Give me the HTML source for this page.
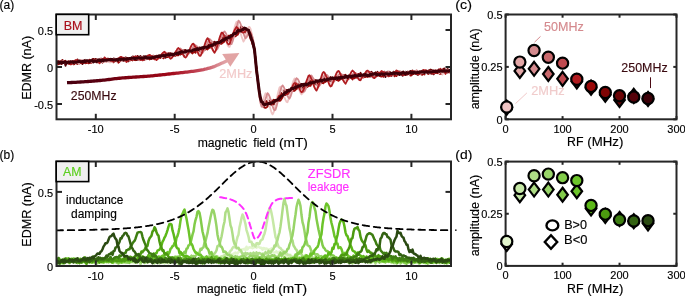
<!DOCTYPE html>
<html><head><meta charset="utf-8"><style>
html,body{margin:0;padding:0;background:#fff;}
svg{display:block;will-change:transform;}
text{font-family:"Liberation Sans", sans-serif;}
</style></head><body>
<svg width="685" height="296" viewBox="0 0 685 296">
<defs>
<clipPath id="clipA"><rect x="56.5" y="14.5" width="394.5" height="104.8"/></clipPath>
<clipPath id="clipB"><rect x="56.5" y="161.5" width="394.5" height="104.5"/></clipPath>
</defs>
<g clip-path="url(#clipA)">
<polyline points="56.5,65.39 57.5,61.59 58.5,63.83 59.5,62.9 60.5,62.86 61.5,62.94 62.5,61.45 63.5,62.9 64.5,62.43 65.5,65.83 66.5,63.41 67.5,62.99 68.5,63.07 69.5,62.74 70.5,62.32 71.5,62.72 72.5,63.27 73.5,62.53 74.5,63.34 75.5,62.28 76.5,62.35 77.5,63.57 78.5,62.8 79.5,62.02 80.5,62.34 81.5,62.98 82.5,64.14 83.5,62.4 84.5,62.34 85.5,63.2 86.5,61.53 87.5,61.83 88.5,62.59 89.5,62.19 90.5,61.66 91.5,62.06 92.5,59.29 93.5,62.42 94.5,60.91 95.5,60.42 96.5,62.05 97.5,62.43 98.5,61.51 99.5,60.87 100.5,61.59 101.5,61.34 102.5,62.3 103.5,61.58 104.5,60.97 105.5,61.57 106.5,60.52 107.5,60 108.5,61.29 109.5,61.38 110.5,60.84 111.5,60.46 112.5,61.31 113.5,59.05 114.5,61.43 115.5,61.07 116.5,59.14 117.5,60.27 118.5,59.24 119.5,60.44 120.5,58.12 121.5,59.06 122.5,60.44 123.5,60.91 124.5,58.37 125.5,59.81 126.5,60.54 127.5,59.8 128.5,61.4 129.5,58.96 130.5,59.95 131.5,58.56 132.5,60.27 133.5,58.9 134.5,58.44 135.5,57.37 136.5,60.17 137.5,59.54 138.5,59.69 139.5,60.14 140.5,59.62 141.5,58.91 142.5,58.69 143.5,58.48 144.5,59.95 145.5,57.38 146.5,57.77 147.5,57.7 148.5,57.88 149.5,58.02 150.5,56.62 151.5,56.34 152.5,57.87 153.5,59 154.5,58.77 155.5,58.44 156.5,58.04 157.5,58.28 158.5,57.52 159.5,57.99 160.5,56.28 161.5,56.61 162.5,56.03 163.5,56.22 164.5,55.87 165.5,57.77 166.5,57.01 167.5,57.13 168.5,54.42 169.5,55.86 170.5,55.67 171.5,56.4 172.5,53.76 173.5,56.06 174.5,55.46 175.5,53.04 176.5,52.79 177.5,52.49 178.5,52.87 179.5,53.35 180.5,54.55 181.5,52.92 182.5,53.85 183.5,53.53 184.5,54.87 185.5,54.11 186.5,54.21 187.5,51.91 188.5,52.02 189.5,50.98 190.5,52.09 191.5,50.93 192.5,49.78 193.5,49.55 194.5,50.28 195.5,49.61 196.5,49.67 197.5,50.85 198.5,52.36 199.5,50.6 200.5,50.2 201.5,49.28 202.5,48.54 203.5,49.04 204.5,48.51 205.5,47.24 206.5,46.78 207.5,46.13 208.5,46.08 209.5,45.09 210.5,45.86 211.5,46.35 212.5,45.93 213.5,46.15 214.5,45.86 215.5,45.54 216.5,45.44 217.5,43.79 218.5,42.96 219.5,42.53 220.5,41.5 221.5,41.26 222.5,38.73 223.5,40.27 224.5,39.55 225.5,39.96 226.5,40.4 227.5,40.52 228.5,40.34 229.5,39.38 230.5,39.17 231.5,37.04 232.5,35.89 233.5,35.12 234.5,33.21 235.5,33.5 236.5,31.97 237.5,32.2 238.5,30.92 239.5,30.78 240.5,31.28 241.5,31.88 242.5,31.49 243.5,32.13 244.5,31.54 245.5,31.73 246.5,29.89 247.5,30.74 248.5,30.72 249.5,32.26 250.5,35.05 251.5,37.52 252.5,41.94 253.5,46.69 254.5,51.17 255.5,60.87 256.5,71.96 257.5,79.33 258.5,87.21 259.5,94.42 260.5,98.23 261.5,102.97 262.5,102.52 263.5,104.2 264.5,103.82 265.5,104.1 266.5,103.65 267.5,103.5 268.5,104.35 269.5,104.19 270.5,104.66 271.5,104.92 272.5,104.77 273.5,104.06 274.5,102.71 275.5,101.83 276.5,99.58 277.5,99.25 278.5,97.52 279.5,97.52 280.5,96.79 281.5,94.8 282.5,95.53 283.5,95.16 284.5,94.47 285.5,94.98 286.5,94.12 287.5,92.9 288.5,92.57 289.5,91.5 290.5,90.52 291.5,88.74 292.5,88.64 293.5,87.8 294.5,86.11 295.5,86.29 296.5,86.72 297.5,86.74 298.5,88.26 299.5,87.77 300.5,87.37 301.5,87.58 302.5,87.58 303.5,88.12 304.5,86 305.5,85.3 306.5,84.64 307.5,83.57 308.5,84.16 309.5,82.32 310.5,83.14 311.5,83.08 312.5,83.66 313.5,83.01 314.5,84.93 315.5,84.07 316.5,84.15 317.5,83.05 318.5,82.48 319.5,82.45 320.5,81.9 321.5,81.03 322.5,80.64 323.5,79.85 324.5,79.47 325.5,80.15 326.5,80.33 327.5,80.28 328.5,81.11 329.5,81.73 330.5,81.26 331.5,80.7 332.5,80.84 333.5,80.96 334.5,79.02 335.5,78.45 336.5,77.83 337.5,78.2 338.5,76.07 339.5,77.63 340.5,78.44 341.5,77.53 342.5,79.36 343.5,79.08 344.5,78.63 345.5,79.22 346.5,77.72 347.5,77.87 348.5,78.89 349.5,76.52 350.5,77.79 351.5,76.04 352.5,76.4 353.5,75.79 354.5,74.46 355.5,75.89 356.5,76.75 357.5,76.16 358.5,76.29 359.5,77.66 360.5,76.85 361.5,75.75 362.5,76.01 363.5,76.63 364.5,75.19 365.5,75.77 366.5,75.85 367.5,74.59 368.5,73.91 369.5,74.04 370.5,75.3 371.5,76.31 372.5,76.16 373.5,76.6 374.5,76 375.5,76.32 376.5,75.39 377.5,75.1 378.5,73.93 379.5,73.31 380.5,73.81 381.5,73.06 382.5,73.2 383.5,74.7 384.5,74.35 385.5,77.07 386.5,75.77 387.5,74.77 388.5,76.08 389.5,75.72 390.5,74.63 391.5,75.73 392.5,73.86 393.5,71.66 394.5,74.4 395.5,72.99 396.5,74.52 397.5,72.94 398.5,72.72 399.5,75.16 400.5,73.32 401.5,74.58 402.5,75.77 403.5,74.81 404.5,74.48 405.5,74.36 406.5,74.62 407.5,72.97 408.5,73.77 409.5,73.46 410.5,74.64 411.5,72.49 412.5,72.18 413.5,73.7 414.5,73.02 415.5,73.79 416.5,73.86 417.5,74.82 418.5,73.36 419.5,73.59 420.5,71.35 421.5,72.38 422.5,74.01 423.5,71.95 424.5,71.69 425.5,71.12 426.5,72.65 427.5,72.47 428.5,71.57 429.5,73.25 430.5,73.1 431.5,73.64 432.5,72.6 433.5,74.38 434.5,73.08 435.5,72.39 436.5,71.78 437.5,71.71 438.5,72.34 439.5,71.23 440.5,72.26 441.5,71.95 442.5,72.7 443.5,72.43 444.5,71.88 445.5,70.53 446.5,72.38 447.5,72.76 448.5,72.06 449.5,72.13 450.5,71.04" fill="none" stroke="#55020a" stroke-width="1.8" stroke-linejoin="round" stroke-linecap="round" />
<polyline points="56.5,61.8 57.5,61.39 58.5,63.25 59.5,62.25 60.5,61.62 61.5,60.82 62.5,61.62 63.5,62.75 64.5,61.82 65.5,60.75 66.5,62.39 67.5,62.4 68.5,62.08 69.5,61.98 70.5,62.33 71.5,61.89 72.5,62.11 73.5,60.88 74.5,62.61 75.5,61.46 76.5,62.74 77.5,59.33 78.5,61.36 79.5,61.44 80.5,60.25 81.5,60.85 82.5,61.12 83.5,61.03 84.5,60.2 85.5,60.59 86.5,61.57 87.5,61.81 88.5,60.84 89.5,60.69 90.5,60.63 91.5,61.12 92.5,59.27 93.5,58.87 94.5,59.88 95.5,58.79 96.5,59.22 97.5,59.81 98.5,60.2 99.5,59.04 100.5,60.61 101.5,58.61 102.5,60.49 103.5,58.69 104.5,58.78 105.5,60.12 106.5,59.08 107.5,58.57 108.5,58.66 109.5,59.24 110.5,58.77 111.5,58.83 112.5,59.77 113.5,58.45 114.5,58.75 115.5,58.79 116.5,60.2 117.5,60.04 118.5,60.12 119.5,58.86 120.5,58.54 121.5,59.12 122.5,57.9 123.5,58.68 124.5,58.44 125.5,57.33 126.5,57.89 127.5,57.96 128.5,59.56 129.5,60.36 130.5,58.29 131.5,58.43 132.5,56.48 133.5,58.27 134.5,57.86 135.5,56.75 136.5,57.98 137.5,55.86 138.5,56.74 139.5,56.95 140.5,55.9 141.5,57.69 142.5,57.98 143.5,56.16 144.5,56.27 145.5,57.96 146.5,57.45 147.5,56.3 148.5,56.77 149.5,56.63 150.5,56.28 151.5,56.75 152.5,56.12 153.5,57 154.5,56.69 155.5,56.21 156.5,56.64 157.5,56.97 158.5,56.59 159.5,55.13 160.5,56.81 161.5,55.99 162.5,56.9 163.5,55.3 164.5,55.22 165.5,54.63 166.5,55.29 167.5,53.72 168.5,53.15 169.5,53.6 170.5,53.04 171.5,53.61 172.5,53.57 173.5,53.87 174.5,55.21 175.5,53.27 176.5,53.27 177.5,52.66 178.5,52.87 179.5,50.89 180.5,50.79 181.5,50.87 182.5,50.97 183.5,50.43 184.5,50.11 185.5,49.93 186.5,51.17 187.5,52.06 188.5,51.26 189.5,51.18 190.5,51.16 191.5,49.63 192.5,49.63 193.5,49.12 194.5,48.99 195.5,48.2 196.5,46.81 197.5,48.32 198.5,48.74 199.5,47.32 200.5,47.95 201.5,47.99 202.5,48.48 203.5,46.84 204.5,49.04 205.5,47.03 206.5,47.69 207.5,46.13 208.5,45.05 209.5,44.48 210.5,44.51 211.5,42.64 212.5,42.72 213.5,42.55 214.5,41.69 215.5,43.81 216.5,43.33 217.5,42.89 218.5,43.56 219.5,41.69 220.5,41.55 221.5,41.9 222.5,40.48 223.5,37.42 224.5,35.79 225.5,36.45 226.5,37.16 227.5,35.88 228.5,35.84 229.5,36.24 230.5,35.16 231.5,35.7 232.5,35.82 233.5,35.26 234.5,34.35 235.5,32.75 236.5,32.33 237.5,30.55 238.5,30.47 239.5,30.25 240.5,27.46 241.5,26.37 242.5,27.53 243.5,28.25 244.5,29.01 245.5,29.38 246.5,28.54 247.5,29.37 248.5,32.17 249.5,32.26 250.5,36.4 251.5,37.68 252.5,41.24 253.5,44.78 254.5,49.75 255.5,59 256.5,67.77 257.5,77.13 258.5,84.76 259.5,92.76 260.5,98.75 261.5,101.26 262.5,102.89 263.5,103.7 264.5,104.25 265.5,104.62 266.5,103.01 267.5,103.44 268.5,102.11 269.5,101.08 270.5,100.09 271.5,100.99 272.5,101.25 273.5,99.76 274.5,101.52 275.5,101.67 276.5,100.61 277.5,100.15 278.5,100.38 279.5,98.53 280.5,95.95 281.5,95.14 282.5,93.71 283.5,92.44 284.5,89.95 285.5,91.29 286.5,89.98 287.5,90.17 288.5,89.79 289.5,90.3 290.5,89.48 291.5,88.99 292.5,89.24 293.5,89.03 294.5,87.11 295.5,87.34 296.5,85.82 297.5,84.58 298.5,85.29 299.5,83.51 300.5,84.72 301.5,83.87 302.5,84.68 303.5,83.77 304.5,84.18 305.5,85.5 306.5,84.76 307.5,84.13 308.5,83.18 309.5,83.08 310.5,81.14 311.5,80.66 312.5,80.72 313.5,79.8 314.5,79.88 315.5,80.42 316.5,80.54 317.5,80.69 318.5,82.19 319.5,81.85 320.5,82.04 321.5,80.82 322.5,79.97 323.5,78.72 324.5,78.89 325.5,77.05 326.5,77.59 327.5,78.12 328.5,78.57 329.5,78.19 330.5,77.03 331.5,78.26 332.5,77.55 333.5,78.95 334.5,78.38 335.5,79.08 336.5,80.02 337.5,78.33 338.5,78.92 339.5,76.77 340.5,75.91 341.5,76.8 342.5,76.8 343.5,75.08 344.5,75.74 345.5,74.76 346.5,75.98 347.5,77.08 348.5,76.47 349.5,76.18 350.5,75.33 351.5,76.4 352.5,76.34 353.5,75.73 354.5,75.03 355.5,73.42 356.5,75.53 357.5,73.96 358.5,74 359.5,74.88 360.5,72.79 361.5,74.7 362.5,74.85 363.5,75.4 364.5,76.22 365.5,75.27 366.5,73.11 367.5,73.95 368.5,74.03 369.5,73.64 370.5,72.2 371.5,71.68 372.5,73.51 373.5,73.5 374.5,73.42 375.5,72.29 376.5,75.31 377.5,71.75 378.5,73.89 379.5,75.78 380.5,73.74 381.5,73.77 382.5,72.33 383.5,74.05 384.5,71.65 385.5,72.66 386.5,72.48 387.5,71.64 388.5,73.36 389.5,71.72 390.5,72.52 391.5,73.23 392.5,73.06 393.5,73.83 394.5,74.01 395.5,72.8 396.5,72.33 397.5,72.06 398.5,71.91 399.5,72.61 400.5,71.61 401.5,72.13 402.5,71.85 403.5,71.41 404.5,72.95 405.5,71.6 406.5,72.57 407.5,73.85 408.5,71.73 409.5,72.37 410.5,70.91 411.5,71.51 412.5,70.46 413.5,71.13 414.5,70.8 415.5,71.24 416.5,72.47 417.5,71.55 418.5,72 419.5,71.59 420.5,71.57 421.5,71.2 422.5,70.48 423.5,71.82 424.5,72.87 425.5,71.72 426.5,70.67 427.5,72.19 428.5,70.32 429.5,70.01 430.5,69.52 431.5,69.8 432.5,70.48 433.5,72.41 434.5,70.76 435.5,70.2 436.5,70.6 437.5,70.86 438.5,69.49 439.5,70.76 440.5,70.99 441.5,70.45 442.5,70.46 443.5,68.76 444.5,68.32 445.5,70.73 446.5,70.65 447.5,68.63 448.5,70.12 449.5,70.06 450.5,70.53" fill="none" stroke="#6a0406" stroke-width="1.8" stroke-linejoin="round" stroke-linecap="round" />
<polyline points="56.5,63.26 57.5,62.58 58.5,63 59.5,62.82 60.5,62.49 61.5,60.9 62.5,59.85 63.5,61.52 64.5,60.86 65.5,62.41 66.5,62.84 67.5,62.56 68.5,62.12 69.5,62.52 70.5,63.42 71.5,61.82 72.5,63 73.5,62.66 74.5,62.13 75.5,62.9 76.5,61 77.5,62.19 78.5,60.65 79.5,60.82 80.5,60.65 81.5,61.94 82.5,60.91 83.5,61.78 84.5,60.88 85.5,62.63 86.5,63.11 87.5,61.65 88.5,62.59 89.5,61.52 90.5,62.61 91.5,60.78 92.5,59.31 93.5,61.78 94.5,60.55 95.5,59.92 96.5,60.33 97.5,59.66 98.5,60.91 99.5,60.23 100.5,62.18 101.5,61.35 102.5,59.28 103.5,59.18 104.5,59.7 105.5,58.4 106.5,59.68 107.5,59.67 108.5,59.14 109.5,59.42 110.5,60.38 111.5,61.25 112.5,61.43 113.5,60.35 114.5,61.01 115.5,59.56 116.5,60.27 117.5,58.92 118.5,60 119.5,58.16 120.5,58.15 121.5,58.74 122.5,59.22 123.5,57.72 124.5,58.58 125.5,59.28 126.5,59.51 127.5,58.78 128.5,59.61 129.5,59.22 130.5,60.33 131.5,59.38 132.5,57.56 133.5,56.55 134.5,58.1 135.5,58.72 136.5,57.82 137.5,58.47 138.5,57.53 139.5,57.02 140.5,58.91 141.5,58.58 142.5,59.19 143.5,57.58 144.5,58.61 145.5,57.67 146.5,58.46 147.5,56.97 148.5,56.58 149.5,56.26 150.5,57.47 151.5,56.5 152.5,56 153.5,55.99 154.5,56.2 155.5,58.43 156.5,55.99 157.5,56.87 158.5,57.92 159.5,57.98 160.5,56.49 161.5,56.71 162.5,56.17 163.5,55.83 164.5,54.68 165.5,55.63 166.5,54.6 167.5,55.71 168.5,54 169.5,55.69 170.5,54.33 171.5,54.31 172.5,55.73 173.5,54.41 174.5,54.76 175.5,53.13 176.5,54.27 177.5,52.57 178.5,51.24 179.5,51.61 180.5,51.99 181.5,51.1 182.5,52.16 183.5,53.41 184.5,53 185.5,52.74 186.5,52.58 187.5,53.08 188.5,51.34 189.5,49.82 190.5,50.44 191.5,49.44 192.5,50.27 193.5,48.74 194.5,47.74 195.5,47.78 196.5,48.93 197.5,48.61 198.5,49.16 199.5,49.8 200.5,50.18 201.5,50.32 202.5,49.77 203.5,49.57 204.5,48.85 205.5,46.27 206.5,47.23 207.5,45.15 208.5,44.84 209.5,43.73 210.5,44.35 211.5,44.61 212.5,44.96 213.5,45.69 214.5,45.93 215.5,45.43 216.5,45.48 217.5,44.89 218.5,43.73 219.5,42.03 220.5,40.71 221.5,39.46 222.5,37.93 223.5,37.03 224.5,38.11 225.5,37.61 226.5,38.17 227.5,38.29 228.5,39.4 229.5,39.77 230.5,39.06 231.5,38.3 232.5,36.49 233.5,35.77 234.5,33.8 235.5,31.55 236.5,30.66 237.5,28.96 238.5,28.43 239.5,28.56 240.5,28.78 241.5,29.62 242.5,30.85 243.5,31.43 244.5,31.75 245.5,32.71 246.5,31.16 247.5,30.66 248.5,31 249.5,32.73 250.5,35.08 251.5,37.2 252.5,40.7 253.5,43.36 254.5,49.55 255.5,58.98 256.5,69.77 257.5,78.75 258.5,85.07 259.5,96.57 260.5,99.37 261.5,103.06 262.5,104.2 263.5,104.09 264.5,103.32 265.5,101.39 266.5,101.02 267.5,101.33 268.5,101.22 269.5,101.81 270.5,102.21 271.5,104.08 272.5,104.47 273.5,104.36 274.5,104.31 275.5,103.02 276.5,101.12 277.5,99.62 278.5,97.97 279.5,96.29 280.5,94.86 281.5,93.04 282.5,92.63 283.5,92.89 284.5,92.73 285.5,92.78 286.5,93.8 287.5,93.43 288.5,93.54 289.5,92.83 290.5,90.98 291.5,90.12 292.5,88.55 293.5,86.91 294.5,85.78 295.5,84.34 296.5,83.48 297.5,84.5 298.5,84.87 299.5,86.2 300.5,86.72 301.5,87.07 302.5,87.71 303.5,88.21 304.5,87.29 305.5,85.95 306.5,84.78 307.5,83.29 308.5,82.2 309.5,81.49 310.5,80.48 311.5,80.82 312.5,80.74 313.5,81.14 314.5,81.79 315.5,82.91 316.5,84.1 317.5,84.34 318.5,83.08 319.5,82.01 320.5,81.97 321.5,80.78 322.5,78.98 323.5,79.06 324.5,77.96 325.5,78.17 326.5,78.1 327.5,78.84 328.5,79.2 329.5,79.26 330.5,80.12 331.5,80.31 332.5,81.12 333.5,79.71 334.5,78.71 335.5,78.88 336.5,78.23 337.5,77.56 338.5,76.71 339.5,74.97 340.5,75.5 341.5,75.97 342.5,76.74 343.5,76.26 344.5,77.86 345.5,78.44 346.5,78.11 347.5,78.46 348.5,78.46 349.5,77.19 350.5,76.98 351.5,76.24 352.5,75.27 353.5,74.74 354.5,74.13 355.5,75.28 356.5,74.75 357.5,75.1 358.5,76.37 359.5,76 360.5,76.98 361.5,77.52 362.5,76.56 363.5,76.06 364.5,75.95 365.5,75.24 366.5,73.31 367.5,72.95 368.5,74.19 369.5,73.72 370.5,72.52 371.5,73.37 372.5,74.66 373.5,74.46 374.5,75.73 375.5,75.74 376.5,75.94 377.5,74.5 378.5,75.19 379.5,75.57 380.5,73.24 381.5,74.19 382.5,73.62 383.5,73.23 384.5,72.97 385.5,72.54 386.5,73.1 387.5,74.63 388.5,75.13 389.5,75.58 390.5,75.57 391.5,75.28 392.5,73.96 393.5,72.97 394.5,73.55 395.5,73.34 396.5,72.67 397.5,71.2 398.5,71.98 399.5,71.48 400.5,73 401.5,72.41 402.5,73.4 403.5,74.04 404.5,74.09 405.5,75.03 406.5,72.8 407.5,71.58 408.5,73.69 409.5,73.66 410.5,73.32 411.5,72.12 412.5,72.16 413.5,71.97 414.5,71.06 415.5,71.9 416.5,73.04 417.5,72.43 418.5,74.62 419.5,71.98 420.5,72.69 421.5,73.64 422.5,71.93 423.5,71.16 424.5,70.63 425.5,70.84 426.5,72.4 427.5,71.51 428.5,71.75 429.5,71.13 430.5,72.45 431.5,72.09 432.5,71.46 433.5,71.96 434.5,72.47 435.5,73.02 436.5,71.75 437.5,71.88 438.5,72.77 439.5,70.21 440.5,69.61 441.5,71.21 442.5,70.86 443.5,70.57 444.5,71.03 445.5,70.74 446.5,71.59 447.5,71.04 448.5,72.01 449.5,70.29 450.5,70.33" fill="none" stroke="#800404" stroke-width="1.8" stroke-linejoin="round" stroke-linecap="round" />
<polyline points="56.5,63.79 57.5,63.34 58.5,64.31 59.5,63.75 60.5,63.38 61.5,63.98 62.5,63.35 63.5,62.42 64.5,62.64 65.5,62.78 66.5,62.91 67.5,63.24 68.5,63.78 69.5,63.42 70.5,64.41 71.5,64.03 72.5,62.89 73.5,64.41 74.5,64.07 75.5,62.78 76.5,63.4 77.5,63.92 78.5,63.12 79.5,63.6 80.5,62.96 81.5,63.05 82.5,62.1 83.5,62.55 84.5,61.93 85.5,62.78 86.5,60.92 87.5,62.59 88.5,63.38 89.5,62.88 90.5,62.42 91.5,62.82 92.5,61.59 93.5,61.45 94.5,61.67 95.5,61.67 96.5,62.4 97.5,60.77 98.5,62.19 99.5,60.15 100.5,60.81 101.5,61.47 102.5,62.5 103.5,61.14 104.5,59.96 105.5,62.03 106.5,61.56 107.5,60.56 108.5,60.42 109.5,60.51 110.5,60.95 111.5,61.23 112.5,59.37 113.5,62.35 114.5,60.52 115.5,60.32 116.5,61.24 117.5,60.87 118.5,62.72 119.5,61.77 120.5,60.56 121.5,60.39 122.5,60.11 123.5,60.03 124.5,60.61 125.5,59.35 126.5,60.96 127.5,59.47 128.5,59.44 129.5,60.38 130.5,58.13 131.5,59.07 132.5,60.4 133.5,60.01 134.5,60.03 135.5,60.23 136.5,59.24 137.5,59.35 138.5,58.14 139.5,57.47 140.5,59.75 141.5,57.79 142.5,57.91 143.5,59.65 144.5,59.48 145.5,58.34 146.5,58.47 147.5,58.95 148.5,58.32 149.5,59.49 150.5,58.95 151.5,58.67 152.5,58.86 153.5,58.5 154.5,59.08 155.5,58.53 156.5,55.72 157.5,57.81 158.5,56.26 159.5,56.11 160.5,57.94 161.5,56.92 162.5,57.29 163.5,58.41 164.5,56.78 165.5,56.24 166.5,56.8 167.5,57.06 168.5,56.03 169.5,53.93 170.5,54.26 171.5,54.46 172.5,56.12 173.5,55.36 174.5,55.43 175.5,55.84 176.5,54.73 177.5,55.42 178.5,55.34 179.5,53.79 180.5,54.09 181.5,54.04 182.5,52.19 183.5,53.14 184.5,52.62 185.5,52.42 186.5,51.03 187.5,51.79 188.5,52.94 189.5,52.65 190.5,51.71 191.5,52.59 192.5,53.5 193.5,52.16 194.5,51.99 195.5,52.89 196.5,50.45 197.5,49.74 198.5,48.51 199.5,48.18 200.5,49.28 201.5,48.27 202.5,47.76 203.5,48.14 204.5,48.96 205.5,49.62 206.5,48.8 207.5,49.57 208.5,48.24 209.5,47.96 210.5,47.17 211.5,46.27 212.5,44.75 213.5,44.04 214.5,43.67 215.5,42.51 216.5,43.32 217.5,43.64 218.5,44.11 219.5,43.73 220.5,43.75 221.5,43.89 222.5,42.92 223.5,42.27 224.5,41.49 225.5,40.25 226.5,38.38 227.5,37.54 228.5,35.61 229.5,36.25 230.5,35.44 231.5,35.78 232.5,35.27 233.5,35.86 234.5,36.2 235.5,36.42 236.5,35.09 237.5,34.95 238.5,33.24 239.5,31.65 240.5,30.94 241.5,29.51 242.5,28.57 243.5,27.7 244.5,28.2 245.5,28.59 246.5,29.17 247.5,30.19 248.5,32.52 249.5,35.58 250.5,39.13 251.5,40.81 252.5,44.4 253.5,46.6 254.5,50.38 255.5,60.77 256.5,69.49 257.5,78.64 258.5,86.68 259.5,93.13 260.5,98.44 261.5,103.66 262.5,104.63 263.5,106.21 264.5,107.63 265.5,107.87 266.5,107.36 267.5,106.65 268.5,104.37 269.5,104.66 270.5,102.44 271.5,101.32 272.5,101.01 273.5,100.5 274.5,100.03 275.5,100.82 276.5,100.5 277.5,100.88 278.5,100.64 279.5,100.76 280.5,100.52 281.5,99.03 282.5,97.52 283.5,96.07 284.5,93.94 285.5,92.07 286.5,90.82 287.5,90.62 288.5,89.7 289.5,89.87 290.5,89.97 291.5,90.46 292.5,90.85 293.5,90.85 294.5,90.8 295.5,89.81 296.5,88.86 297.5,88.4 298.5,87.49 299.5,86.56 300.5,85.27 301.5,84.14 302.5,84.68 303.5,84.91 304.5,84.28 305.5,85.82 306.5,86.15 307.5,87.03 308.5,85.87 309.5,85.61 310.5,85.94 311.5,83.83 312.5,83.46 313.5,82.38 314.5,81.58 315.5,80.42 316.5,80.79 317.5,81.55 318.5,81.55 319.5,81.93 320.5,81.9 321.5,83.23 322.5,83 323.5,83.41 324.5,81.56 325.5,81.97 326.5,80.42 327.5,80.5 328.5,79.69 329.5,78.3 330.5,78.54 331.5,79.01 332.5,78.85 333.5,79.24 334.5,78.77 335.5,79.26 336.5,79.32 337.5,80.28 338.5,80.89 339.5,79.99 340.5,79.18 341.5,77.87 342.5,78.24 343.5,77.25 344.5,75.71 345.5,75.48 346.5,76.53 347.5,76.42 348.5,78.42 349.5,77.7 350.5,77.3 351.5,77.92 352.5,79.47 353.5,77.5 354.5,78.26 355.5,77.54 356.5,77.74 357.5,76.58 358.5,75.48 359.5,75.79 360.5,75.38 361.5,76.23 362.5,75.74 363.5,77.56 364.5,76.34 365.5,77.01 366.5,76.39 367.5,77.01 368.5,76.65 369.5,76.39 370.5,76.54 371.5,75 372.5,74.37 373.5,75.59 374.5,74.25 375.5,74.06 376.5,75.73 377.5,75.7 378.5,73.26 379.5,75.34 380.5,76.48 381.5,76.66 382.5,75.47 383.5,76.85 384.5,74.65 385.5,74.73 386.5,74.67 387.5,74.26 388.5,74.66 389.5,74.77 390.5,74.07 391.5,75.42 392.5,74.01 393.5,74.63 394.5,76.38 395.5,75.25 396.5,76.07 397.5,74.67 398.5,74.53 399.5,74.35 400.5,74.25 401.5,73.54 402.5,73.57 403.5,73.9 404.5,74.39 405.5,73.66 406.5,74.28 407.5,74.69 408.5,73.3 409.5,73.06 410.5,75.7 411.5,75.39 412.5,74.17 413.5,74.14 414.5,72.83 415.5,72.2 416.5,73.3 417.5,71.67 418.5,73.49 419.5,72.32 420.5,73.23 421.5,74.71 422.5,74.84 423.5,73.27 424.5,74.45 425.5,72.82 426.5,73 427.5,73.55 428.5,74.11 429.5,72.29 430.5,72.93 431.5,72.37 432.5,71.11 433.5,72.02 434.5,73.41 435.5,72.27 436.5,72.88 437.5,73.27 438.5,72.13 439.5,73.75 440.5,73.9 441.5,73.79 442.5,73.33 443.5,71.67 444.5,71.33 445.5,70.95 446.5,70.66 447.5,70.64 448.5,72.1 449.5,72.55 450.5,70.98" fill="none" stroke="#9a0808" stroke-width="1.8" stroke-linejoin="round" stroke-linecap="round" />
<polyline points="56.5,63.96 57.5,62.26 58.5,62.97 59.5,62.39 60.5,61.83 61.5,63.13 62.5,63.1 63.5,62.67 64.5,62.53 65.5,62.11 66.5,62.74 67.5,62.32 68.5,62.94 69.5,61.74 70.5,62.83 71.5,63.01 72.5,63.55 73.5,63.34 74.5,62.61 75.5,61.86 76.5,60.89 77.5,62.3 78.5,63.38 79.5,63.52 80.5,60.12 81.5,61.49 82.5,61.76 83.5,61.16 84.5,62.09 85.5,61.92 86.5,61.42 87.5,61.75 88.5,60.46 89.5,60.9 90.5,60.9 91.5,62.28 92.5,60.21 93.5,61.29 94.5,62.03 95.5,61.31 96.5,61.95 97.5,60.72 98.5,61.54 99.5,61.86 100.5,62.87 101.5,61.61 102.5,62.11 103.5,60.92 104.5,60.93 105.5,62.05 106.5,61.2 107.5,61.82 108.5,61.2 109.5,62.27 110.5,62.43 111.5,59.81 112.5,61.91 113.5,60.71 114.5,60.68 115.5,60.15 116.5,60.75 117.5,59.21 118.5,59.45 119.5,59.35 120.5,60.13 121.5,60.58 122.5,60.38 123.5,60.04 124.5,59.22 125.5,58.24 126.5,59.93 127.5,59.67 128.5,59.76 129.5,60.54 130.5,59.16 131.5,59.05 132.5,57.26 133.5,59.46 134.5,58.88 135.5,58.27 136.5,59.13 137.5,57.95 138.5,58.34 139.5,60.33 140.5,59.35 141.5,59.47 142.5,59.27 143.5,59.07 144.5,58.58 145.5,60.1 146.5,58.04 147.5,58.51 148.5,57.58 149.5,57.34 150.5,55.64 151.5,56.05 152.5,58.86 153.5,58.87 154.5,57.38 155.5,57.75 156.5,58.27 157.5,56.8 158.5,58.75 159.5,56.19 160.5,56.08 161.5,54.05 162.5,57.08 163.5,55.56 164.5,56.69 165.5,54.6 166.5,55.77 167.5,55.71 168.5,55.99 169.5,57.54 170.5,57.75 171.5,56.95 172.5,55.31 173.5,55.57 174.5,55.15 175.5,53.93 176.5,53.19 177.5,52.46 178.5,51.28 179.5,51.98 180.5,52.94 181.5,52.17 182.5,53.24 183.5,54.15 184.5,53.74 185.5,54.62 186.5,53.5 187.5,53.11 188.5,51.78 189.5,50.75 190.5,49.63 191.5,48.51 192.5,47.52 193.5,46.79 194.5,48.52 195.5,48.88 196.5,49.78 197.5,51.12 198.5,52.5 199.5,53.09 200.5,53.26 201.5,52.11 202.5,50.73 203.5,48.52 204.5,46.66 205.5,44.56 206.5,42.62 207.5,41.68 208.5,42.12 209.5,43.14 210.5,45.07 211.5,46.95 212.5,48.82 213.5,50.49 214.5,51.96 215.5,50.37 216.5,48.2 217.5,45.3 218.5,42.36 219.5,38.94 220.5,35.86 221.5,33.36 222.5,33.32 223.5,34.81 224.5,36.7 225.5,39.46 226.5,42.39 227.5,44.93 228.5,46.56 229.5,46.79 230.5,44.3 231.5,40.62 232.5,36.49 233.5,32.11 234.5,27.84 235.5,24.42 236.5,21.93 237.5,23.06 238.5,25.59 239.5,28.9 240.5,32.47 241.5,36.23 242.5,39.17 243.5,41.63 244.5,39.82 245.5,36.91 246.5,32.7 247.5,29.21 248.5,27.09 249.5,26.82 250.5,28.62 251.5,32.64 252.5,38.27 253.5,44.38 254.5,50.93 255.5,60.65 256.5,72.24 257.5,80.88 258.5,89.95 259.5,97.68 260.5,102.03 261.5,102.88 262.5,101.26 263.5,98.69 264.5,95.79 265.5,93.22 266.5,94.69 267.5,97.79 268.5,101.6 269.5,105.55 270.5,109.2 271.5,112.5 272.5,114.42 273.5,112.85 274.5,109.6 275.5,104.94 276.5,99.81 277.5,95.01 278.5,91.02 279.5,87.52 280.5,86.8 281.5,88.53 282.5,91.23 283.5,94.36 284.5,97.28 285.5,99.83 286.5,101.8 287.5,102.23 288.5,99.29 289.5,95.61 290.5,91.52 291.5,87.45 292.5,83.48 293.5,80.65 294.5,78.55 295.5,79.66 296.5,81.95 297.5,84.93 298.5,87.9 299.5,90.68 300.5,92.94 301.5,94.4 302.5,93.44 303.5,91.19 304.5,88.26 305.5,84.75 306.5,81.78 307.5,79.15 308.5,77.04 309.5,76.54 310.5,78.13 311.5,79.92 312.5,82.5 313.5,84.73 314.5,87.07 315.5,88.31 316.5,88.69 317.5,87.11 318.5,85.32 319.5,82.96 320.5,80.33 321.5,78.12 322.5,76.13 323.5,75.15 324.5,75.8 325.5,76.97 326.5,79.03 327.5,79.88 328.5,81.75 329.5,83.06 330.5,83.83 331.5,83.74 332.5,81.7 333.5,80.33 334.5,78.93 335.5,77.41 336.5,75.96 337.5,74.88 338.5,75.11 339.5,75.21 340.5,76.29 341.5,77.97 342.5,79.09 343.5,79.68 344.5,79.71 345.5,80 346.5,79.25 347.5,78.24 348.5,77.49 349.5,77.15 350.5,75.83 351.5,74.69 352.5,74.16 353.5,74.15 354.5,75.73 355.5,74.78 356.5,76.48 357.5,76.14 358.5,76.73 359.5,76.73 360.5,77.93 361.5,76.84 362.5,77.95 363.5,75.07 364.5,74.45 365.5,75.06 366.5,74.69 367.5,73.97 368.5,72.94 369.5,75.75 370.5,75.44 371.5,75.62 372.5,75.09 373.5,76.25 374.5,75.37 375.5,75.61 376.5,75.13 377.5,75.96 378.5,74.26 379.5,74.07 380.5,75 381.5,74.14 382.5,73.96 383.5,73.9 384.5,75 385.5,73.87 386.5,74.89 387.5,76.23 388.5,74.97 389.5,73.97 390.5,73.48 391.5,74.38 392.5,73.1 393.5,72.64 394.5,73.16 395.5,72.78 396.5,74.28 397.5,72.44 398.5,74.91 399.5,73.08 400.5,73.81 401.5,74.27 402.5,73.92 403.5,74.29 404.5,72.84 405.5,71.71 406.5,73.26 407.5,71.96 408.5,72.75 409.5,73.88 410.5,72.9 411.5,72.54 412.5,72.1 413.5,72.76 414.5,72.84 415.5,71.7 416.5,73.18 417.5,72.05 418.5,73.04 419.5,72.44 420.5,73.52 421.5,73.34 422.5,72.59 423.5,72.43 424.5,72.8 425.5,73.51 426.5,73.22 427.5,72.46 428.5,72.55 429.5,73.53 430.5,70.92 431.5,72.62 432.5,71.42 433.5,73.16 434.5,71.62 435.5,71.87 436.5,71.02 437.5,71.84 438.5,72.4 439.5,73.05 440.5,70.64 441.5,71.24 442.5,74.67 443.5,72.24 444.5,71.42 445.5,71.78 446.5,69.17 447.5,72.53 448.5,71.3 449.5,69.95 450.5,71.96" fill="none" stroke="#efc4c4" stroke-width="1.8" stroke-linejoin="round" stroke-linecap="round" />
<polyline points="56.5,61.79 57.5,61.43 58.5,62.63 59.5,62.48 60.5,61.75 61.5,62.01 62.5,60.95 63.5,60.82 64.5,62.65 65.5,62.94 66.5,62.18 67.5,62.09 68.5,61.42 69.5,61.59 70.5,60.9 71.5,63 72.5,61.09 73.5,61.82 74.5,61.45 75.5,60.27 76.5,62.89 77.5,60.99 78.5,60.62 79.5,61.28 80.5,60.42 81.5,61.11 82.5,60.27 83.5,61.44 84.5,60.99 85.5,59.8 86.5,61.67 87.5,60.94 88.5,59.85 89.5,60.96 90.5,60.96 91.5,62.04 92.5,59.8 93.5,61.12 94.5,60.31 95.5,60.83 96.5,60.08 97.5,60.2 98.5,60.61 99.5,59.21 100.5,58.43 101.5,60.05 102.5,59.64 103.5,59.99 104.5,60.37 105.5,59.61 106.5,60.66 107.5,59.6 108.5,59.67 109.5,60.21 110.5,59.98 111.5,59.4 112.5,59.55 113.5,58.81 114.5,58.9 115.5,59.42 116.5,59.91 117.5,58.82 118.5,59.74 119.5,60.52 120.5,60.57 121.5,58.77 122.5,59.51 123.5,59.11 124.5,59.24 125.5,59.28 126.5,59.03 127.5,59.29 128.5,58.78 129.5,58.42 130.5,58.73 131.5,58.8 132.5,59.23 133.5,58.37 134.5,58.49 135.5,58.86 136.5,56.81 137.5,57.29 138.5,57.95 139.5,57.59 140.5,56.84 141.5,58.55 142.5,57.8 143.5,57.13 144.5,59.42 145.5,56.69 146.5,57.46 147.5,56.64 148.5,56.94 149.5,56.97 150.5,55.56 151.5,55.9 152.5,55.91 153.5,55.33 154.5,57.26 155.5,56.7 156.5,56.59 157.5,56.51 158.5,56.91 159.5,57.01 160.5,56.18 161.5,56.8 162.5,53.71 163.5,53.36 164.5,53.92 165.5,52.43 166.5,53.3 167.5,53.13 168.5,54.11 169.5,54.43 170.5,55.35 171.5,55.59 172.5,56.08 173.5,55.75 174.5,55.39 175.5,54.33 176.5,52.9 177.5,51.59 178.5,50.57 179.5,50.28 180.5,48.5 181.5,49.69 182.5,49.91 183.5,51.18 184.5,51.91 185.5,52.54 186.5,53.61 187.5,53.53 188.5,53.82 189.5,52.85 190.5,50.86 191.5,50.05 192.5,48.17 193.5,46.73 194.5,45.05 195.5,45.25 196.5,45.96 197.5,46.94 198.5,48.12 199.5,50.02 200.5,51.54 201.5,52.5 202.5,52.99 203.5,51.4 204.5,49.77 205.5,47.63 206.5,45.21 207.5,43.35 208.5,40.82 209.5,39 210.5,39.88 211.5,40.83 212.5,42.83 213.5,44.92 214.5,46.74 215.5,48.51 216.5,49.66 217.5,48.97 218.5,46.67 219.5,44.24 220.5,40.91 221.5,37.53 222.5,34.35 223.5,32.31 224.5,31.4 225.5,32.58 226.5,34.51 227.5,36.93 228.5,39.4 229.5,42.04 230.5,43.63 231.5,44.05 232.5,41.76 233.5,38.32 234.5,34.92 235.5,30.91 236.5,27.09 237.5,23.66 238.5,20.63 239.5,21.59 240.5,23.81 241.5,26.74 242.5,29.92 243.5,33.38 244.5,36.18 245.5,38.27 246.5,37.32 247.5,35.26 248.5,33.52 249.5,32.56 250.5,32.87 251.5,34.19 252.5,37.05 253.5,41.59 254.5,48.29 255.5,58.47 256.5,69.19 257.5,77.67 258.5,87.39 259.5,96.94 260.5,103.32 261.5,106.56 262.5,106.8 263.5,105.09 264.5,102.4 265.5,98.95 266.5,95.9 267.5,93.18 268.5,94.13 269.5,96.39 270.5,99.36 271.5,102.94 272.5,105.99 273.5,108.68 274.5,110.34 275.5,109.64 276.5,106.56 277.5,102.65 278.5,98.24 279.5,94.29 280.5,90.34 281.5,87.01 282.5,85.38 283.5,86.61 284.5,88.6 285.5,90.91 286.5,93.6 287.5,95.98 288.5,97.65 289.5,98.64 290.5,96.69 291.5,93.55 292.5,89.98 293.5,86.36 294.5,82.72 295.5,80.04 296.5,78.13 297.5,78.86 298.5,80.29 299.5,82.87 300.5,85.85 301.5,88.21 302.5,90.29 303.5,91.88 304.5,91.41 305.5,89.31 306.5,86.84 307.5,84.01 308.5,80.89 309.5,78.78 310.5,76.3 311.5,75.54 312.5,77.4 313.5,78.56 314.5,80.78 315.5,82.57 316.5,84.54 317.5,85.88 318.5,86.78 319.5,85.68 320.5,84.02 321.5,81.71 322.5,79.61 323.5,77.13 324.5,75.8 325.5,74.37 326.5,74.77 327.5,75.54 328.5,77.02 329.5,78.94 330.5,80.26 331.5,81.38 332.5,82.04 333.5,82.12 334.5,81.08 335.5,79.68 336.5,77.77 337.5,76.27 338.5,75.12 339.5,73.64 340.5,73.65 341.5,74.06 342.5,74.95 343.5,75.32 344.5,76.63 345.5,77.75 346.5,78.61 347.5,78.85 348.5,78.77 349.5,77.77 350.5,76.56 351.5,74.82 352.5,75.1 353.5,73.63 354.5,73.38 355.5,72.9 356.5,73.7 357.5,74.64 358.5,75.14 359.5,76.12 360.5,76.13 361.5,77.53 362.5,75.63 363.5,75.75 364.5,75.9 365.5,74.57 366.5,73.79 367.5,72.45 368.5,73.71 369.5,71.61 370.5,73.31 371.5,73.49 372.5,74.34 373.5,75.16 374.5,74.07 375.5,74.25 376.5,74.74 377.5,73.49 378.5,75.03 379.5,73.69 380.5,73.72 381.5,72.31 382.5,72.91 383.5,72.18 384.5,72.6 385.5,71.95 386.5,73.86 387.5,72.75 388.5,71.43 389.5,74.15 390.5,73.5 391.5,73.03 392.5,75.54 393.5,73.26 394.5,71.99 395.5,72.33 396.5,72.91 397.5,72.26 398.5,73.32 399.5,73.22 400.5,71.82 401.5,72.57 402.5,73.15 403.5,72.38 404.5,72.38 405.5,73.47 406.5,73.04 407.5,71.42 408.5,71.96 409.5,71.91 410.5,72.01 411.5,71.41 412.5,72.96 413.5,71.07 414.5,70.99 415.5,72.05 416.5,70.1 417.5,71.1 418.5,72.43 419.5,70.86 420.5,71.21 421.5,72.67 422.5,72.07 423.5,71.65 424.5,71.7 425.5,70.88 426.5,71.59 427.5,71.11 428.5,73.25 429.5,71.66 430.5,70.94 431.5,71.14 432.5,71.21 433.5,70.03 434.5,70.43 435.5,72.25 436.5,69.83 437.5,70.41 438.5,71.61 439.5,71.92 440.5,69.82 441.5,71.74 442.5,70.21 443.5,71.78 444.5,70.8 445.5,70.13 446.5,70.88 447.5,70.69 448.5,69.57 449.5,71.84 450.5,69.77" fill="none" stroke="#d48a8e" stroke-width="1.8" stroke-linejoin="round" stroke-linecap="round" />
<polyline points="56.5,64.13 57.5,62.56 58.5,61.19 59.5,61.45 60.5,62 61.5,62.41 62.5,63.24 63.5,62.02 64.5,61.91 65.5,61.37 66.5,62.54 67.5,63.03 68.5,61.17 69.5,64.01 70.5,63.66 71.5,64.29 72.5,61.41 73.5,61.82 74.5,61.46 75.5,60.09 76.5,60.26 77.5,60.25 78.5,61.64 79.5,61.82 80.5,62.83 81.5,61.7 82.5,61.14 83.5,62.77 84.5,62.58 85.5,62.52 86.5,62.61 87.5,60.76 88.5,61.42 89.5,59.65 90.5,60.23 91.5,60.56 92.5,60.13 93.5,60.65 94.5,59.8 95.5,60.7 96.5,61.6 97.5,60.89 98.5,61.23 99.5,63.25 100.5,61.34 101.5,60.12 102.5,59.49 103.5,60.62 104.5,57.42 105.5,58.7 106.5,59.46 107.5,58.98 108.5,60.05 109.5,59.5 110.5,60.58 111.5,60.99 112.5,61.25 113.5,61.19 114.5,60.72 115.5,60.82 116.5,59.42 117.5,58.61 118.5,58.22 119.5,57.74 120.5,56.92 121.5,57.01 122.5,57.76 123.5,59.16 124.5,59.23 125.5,59.9 126.5,62 127.5,61.33 128.5,60.25 129.5,59.47 130.5,59.72 131.5,57.91 132.5,58.09 133.5,57.12 134.5,56.96 135.5,56.19 136.5,57.39 137.5,56.85 138.5,58.29 139.5,59.56 140.5,60.06 141.5,59.52 142.5,60.44 143.5,59.72 144.5,58.68 145.5,57.46 146.5,56.61 147.5,55.55 148.5,55.32 149.5,54.82 150.5,55.5 151.5,56.1 152.5,56.33 153.5,57.8 154.5,59.4 155.5,59.12 156.5,60.06 157.5,59.05 158.5,58.02 159.5,57.11 160.5,55.94 161.5,54.51 162.5,53.18 163.5,52.33 164.5,51.77 165.5,53.19 166.5,54.13 167.5,55.22 168.5,56.53 169.5,57.47 170.5,58.84 171.5,58.25 172.5,56.93 173.5,55.74 174.5,53.81 175.5,52.03 176.5,50.57 177.5,48.69 178.5,47.96 179.5,49.19 180.5,49.71 181.5,51.69 182.5,53.63 183.5,55.43 184.5,57.02 185.5,57.51 186.5,56.62 187.5,54.75 188.5,52.49 189.5,50 190.5,47.43 191.5,45.54 192.5,43.87 193.5,43.77 194.5,45.48 195.5,47.24 196.5,49.48 197.5,51.6 198.5,54.29 199.5,55.87 200.5,55.79 201.5,53.88 202.5,51.19 203.5,48.45 204.5,45.22 205.5,42.34 206.5,39.79 207.5,38.13 208.5,39.39 209.5,41.66 210.5,43.89 211.5,46.85 212.5,49.49 213.5,51.28 214.5,52.89 215.5,51.16 216.5,48.52 217.5,45.07 218.5,41.57 219.5,38.13 220.5,35.25 221.5,32.76 222.5,32.73 223.5,34.18 224.5,36.63 225.5,38.95 226.5,41.35 227.5,43.25 228.5,44.49 229.5,44.04 230.5,41.57 231.5,38.67 232.5,35.88 233.5,32.59 234.5,30.22 235.5,28.52 236.5,26.97 237.5,27.79 238.5,28.73 239.5,30.09 240.5,31.05 241.5,31.3 242.5,32.37 243.5,32.71 244.5,32.08 245.5,30.83 246.5,30.36 247.5,29.82 248.5,29.55 249.5,31.58 250.5,33.3 251.5,39.11 252.5,41 253.5,44.96 254.5,48.89 255.5,59.08 256.5,69.98 257.5,77.64 258.5,85.23 259.5,92.62 260.5,99.66 261.5,100.95 262.5,101.79 263.5,103.33 264.5,103.92 265.5,104.16 266.5,103.9 267.5,102.95 268.5,103.42 269.5,103.63 270.5,101.97 271.5,104.48 272.5,103.98 273.5,100.64 274.5,101.14 275.5,101.45 276.5,100.77 277.5,99.99 278.5,96.37 279.5,95.8 280.5,95.26 281.5,95.26 282.5,94.02 283.5,94.52 284.5,94.44 285.5,94.55 286.5,93.83 287.5,94.16 288.5,93 289.5,91.46 290.5,90.3 291.5,87.99 292.5,86.47 293.5,84.11 294.5,83.03 295.5,83.17 296.5,83.56 297.5,85.22 298.5,87.04 299.5,88.78 300.5,90.92 301.5,92.35 302.5,91.69 303.5,89.95 304.5,87.51 305.5,84.36 306.5,81.14 307.5,78.54 308.5,75.78 309.5,75.21 310.5,76.89 311.5,79.16 312.5,81.62 313.5,84.72 314.5,87.39 315.5,89.47 316.5,90.61 317.5,88.61 318.5,85.86 319.5,82.69 320.5,79.46 321.5,76.36 322.5,73.34 323.5,72.01 324.5,72.59 325.5,74.81 326.5,77.04 327.5,79.96 328.5,82.5 329.5,85.05 330.5,86.58 331.5,86 332.5,83.89 333.5,81.38 334.5,78.35 335.5,75.62 336.5,73.17 337.5,71.56 338.5,70.87 339.5,72.14 340.5,74.38 341.5,76.68 342.5,79.1 343.5,80.79 344.5,82.51 345.5,83.71 346.5,81.88 347.5,80 348.5,77.99 349.5,75.57 350.5,73.6 351.5,71.81 352.5,70.57 353.5,71.43 354.5,72.52 355.5,74.03 356.5,75.93 357.5,77.62 358.5,79.1 359.5,80.21 360.5,80.25 361.5,78.31 362.5,77 363.5,74.94 364.5,73.79 365.5,72.44 366.5,71.06 367.5,70.56 368.5,71.39 369.5,72.39 370.5,74.27 371.5,75.94 372.5,76.27 373.5,77.97 374.5,78.05 375.5,76.95 376.5,76.49 377.5,75.35 378.5,73.98 379.5,72.6 380.5,72.26 381.5,70.94 382.5,71.46 383.5,72.22 384.5,72.63 385.5,73.29 386.5,74.29 387.5,75.57 388.5,76.42 389.5,75.63 390.5,75.33 391.5,75.33 392.5,73.08 393.5,73.01 394.5,72.13 395.5,71.65 396.5,70.39 397.5,71.6 398.5,71.5 399.5,73.41 400.5,73.21 401.5,74.44 402.5,74.45 403.5,75.21 404.5,74.06 405.5,74.29 406.5,73.72 407.5,72.66 408.5,72.73 409.5,71.52 410.5,71.28 411.5,71.19 412.5,72.32 413.5,71.54 414.5,72.33 415.5,72.92 416.5,73.86 417.5,74.02 418.5,74.37 419.5,73.65 420.5,72.65 421.5,72.3 422.5,71.98 423.5,69.82 424.5,71.56 425.5,70.11 426.5,70.49 427.5,71.24 428.5,71.36 429.5,71.06 430.5,72.25 431.5,73.62 432.5,73.62 433.5,73.54 434.5,71.95 435.5,71.69 436.5,72.03 437.5,71.84 438.5,70.42 439.5,69.39 440.5,68.67 441.5,71.28 442.5,69.48 443.5,71.24 444.5,71.93 445.5,73.98 446.5,71.91 447.5,71.71 448.5,71.84 449.5,71.5 450.5,71.71" fill="none" stroke="#b01c20" stroke-width="1.8" stroke-linejoin="round" stroke-linecap="round" />
<polyline points="56.5,63.04 57.5,62.48 58.5,61.95 59.5,62.77 60.5,62.37 61.5,63.08 62.5,62.05 63.5,62.55 64.5,62.17 65.5,62.07 66.5,62.93 67.5,62.35 68.5,62.17 69.5,62.46 70.5,61.86 71.5,61.96 72.5,61.81 73.5,62.71 74.5,62.06 75.5,62.12 76.5,62.25 77.5,61.73 78.5,61.69 79.5,61.1 80.5,61.81 81.5,61.68 82.5,61.39 83.5,61.92 84.5,60.79 85.5,61.53 86.5,60.83 87.5,60.86 88.5,61.15 89.5,61.65 90.5,60.68 91.5,60.7 92.5,60.57 93.5,61.68 94.5,61.09 95.5,60.99 96.5,61.54 97.5,60.83 98.5,59.92 99.5,60.44 100.5,60.14 101.5,61.25 102.5,59.95 103.5,60.51 104.5,60.16 105.5,60.13 106.5,60.24 107.5,60.13 108.5,59.87 109.5,59.62 110.5,59.77 111.5,59.57 112.5,59.56 113.5,59.88 114.5,59.72 115.5,59.89 116.5,59.57 117.5,60.29 118.5,59.27 119.5,59.11 120.5,59.78 121.5,59.09 122.5,59.33 123.5,59.58 124.5,59.12 125.5,58.96 126.5,59.38 127.5,59.08 128.5,58.7 129.5,58.39 130.5,58.62 131.5,58.09 132.5,58.31 133.5,58.16 134.5,58.6 135.5,58.71 136.5,58.13 137.5,58.14 138.5,57.83 139.5,57.66 140.5,57.94 141.5,58.23 142.5,58.13 143.5,58.1 144.5,57.71 145.5,56.74 146.5,57.99 147.5,58.06 148.5,57.83 149.5,57.74 150.5,57.73 151.5,58.21 152.5,57.26 153.5,57.62 154.5,57.25 155.5,57.1 156.5,56.7 157.5,56.5 158.5,56.1 159.5,56.59 160.5,56.12 161.5,55.65 162.5,55.66 163.5,55.34 164.5,56.19 165.5,55.35 166.5,55.3 167.5,54.65 168.5,54.53 169.5,55.1 170.5,54.45 171.5,54.42 172.5,54.82 173.5,54.71 174.5,54.01 175.5,53.74 176.5,53.46 177.5,53.07 178.5,53.72 179.5,52.35 180.5,52.57 181.5,51.72 182.5,51.77 183.5,52.19 184.5,52.02 185.5,51.79 186.5,51.37 187.5,51.04 188.5,50.91 189.5,50.77 190.5,51.12 191.5,51.05 192.5,50.48 193.5,49.92 194.5,49.57 195.5,49.81 196.5,49.4 197.5,48.6 198.5,49.53 199.5,48.8 200.5,48.45 201.5,48 202.5,47.75 203.5,48.13 204.5,47.19 205.5,47.29 206.5,47.19 207.5,47.31 208.5,46.53 209.5,45.94 210.5,45.43 211.5,45.52 212.5,45.19 213.5,44.28 214.5,44.25 215.5,43.59 216.5,42.64 217.5,42.45 218.5,42.69 219.5,42.48 220.5,41.76 221.5,40.98 222.5,40.32 223.5,40.3 224.5,39.73 225.5,38.51 226.5,38.8 227.5,37.75 228.5,37.67 229.5,37.02 230.5,36.48 231.5,35.99 232.5,35.24 233.5,33.98 234.5,33.38 235.5,33.52 236.5,32.66 237.5,31.22 238.5,30.39 239.5,30.86 240.5,30.91 241.5,30.08 242.5,29.42 243.5,29.38 244.5,28.12 245.5,28.62 246.5,29.27 247.5,29.81 248.5,30.17 249.5,33.51 250.5,36.12 251.5,38.95 252.5,41.53 253.5,45.32 254.5,49.86 255.5,59.56 256.5,69.93 257.5,77.53 258.5,85.76 259.5,93 260.5,98.52 261.5,101.86 262.5,102.25 263.5,104.12 264.5,104.85 265.5,104.39 266.5,104.37 267.5,104.12 268.5,103.39 269.5,103.37 270.5,103.59 271.5,102.78 272.5,102.7 273.5,101.99 274.5,101.52 275.5,100.54 276.5,100.18 277.5,100 278.5,99.17 279.5,98.06 280.5,96.91 281.5,95.99 282.5,95.53 283.5,94.7 284.5,92.97 285.5,92.84 286.5,92.04 287.5,91.25 288.5,90.24 289.5,90.69 290.5,89.69 291.5,88.43 292.5,88.25 293.5,88.4 294.5,87.91 295.5,87.41 296.5,87.01 297.5,86.61 298.5,86.21 299.5,85.69 300.5,85.98 301.5,84.48 302.5,84.95 303.5,85.4 304.5,84.4 305.5,84 306.5,84.86 307.5,84.3 308.5,83.62 309.5,83.2 310.5,83.08 311.5,82.78 312.5,82.57 313.5,82.14 314.5,82.36 315.5,81.73 316.5,81.03 317.5,80.99 318.5,81.23 319.5,80.64 320.5,79.89 321.5,81.12 322.5,80.55 323.5,79.99 324.5,79.78 325.5,79.96 326.5,80.08 327.5,79.18 328.5,79.38 329.5,78.83 330.5,79.01 331.5,78.32 332.5,77.92 333.5,78.47 334.5,78.27 335.5,78.41 336.5,77.77 337.5,78.38 338.5,77.79 339.5,78.18 340.5,77.38 341.5,77.93 342.5,77.24 343.5,77.2 344.5,77.38 345.5,76.28 346.5,76.42 347.5,77.36 348.5,76.04 349.5,76.29 350.5,76.56 351.5,76.78 352.5,75.96 353.5,76.09 354.5,75.53 355.5,75.7 356.5,76.11 357.5,75.76 358.5,75.54 359.5,75.62 360.5,75.42 361.5,75.35 362.5,75.08 363.5,74.78 364.5,75.3 365.5,74.57 366.5,75.29 367.5,75.62 368.5,75.34 369.5,75.57 370.5,74.29 371.5,74.7 372.5,74.25 373.5,74.23 374.5,73.82 375.5,73.95 376.5,74.65 377.5,74.54 378.5,74.67 379.5,74.59 380.5,74.42 381.5,73.8 382.5,74 383.5,74.27 384.5,74.41 385.5,73.77 386.5,73.69 387.5,73.66 388.5,74.35 389.5,73.94 390.5,73.57 391.5,73.37 392.5,73.76 393.5,72.95 394.5,73.43 395.5,73.26 396.5,73.2 397.5,73.44 398.5,73.47 399.5,74.37 400.5,73.26 401.5,73.43 402.5,72.83 403.5,72.48 404.5,73.44 405.5,73.69 406.5,72.57 407.5,72.86 408.5,73.24 409.5,72.82 410.5,71.88 411.5,73.06 412.5,72.59 413.5,72.86 414.5,72.2 415.5,72.82 416.5,72.83 417.5,72.15 418.5,72.54 419.5,72.08 420.5,72.08 421.5,71.89 422.5,72.01 423.5,71.87 424.5,72.49 425.5,71.94 426.5,71.56 427.5,72.41 428.5,72.06 429.5,72.17 430.5,71.74 431.5,71.96 432.5,71.62 433.5,71.26 434.5,71.59 435.5,71.55 436.5,71.49 437.5,71.68 438.5,70.7 439.5,71.37 440.5,70.91 441.5,71.04 442.5,71.24 443.5,71.04 444.5,70.71 445.5,71.16 446.5,70.8 447.5,71.09 448.5,71.13 449.5,70.49 450.5,70.16" fill="none" stroke="#3c0008" stroke-width="3.0" stroke-linejoin="round" stroke-linecap="round" />
</g>
<g clip-path="url(#clipB)">
<polyline points="56.5,260.06 57.5,260.58 58.5,262.16 59.5,262.72 60.5,261.91 61.5,261.92 62.5,260.25 63.5,260.84 64.5,259.97 65.5,260.99 66.5,259.12 67.5,260.88 68.5,260.3 69.5,261.32 70.5,260.4 71.5,259.72 72.5,260.05 73.5,259.51 74.5,261.51 75.5,260.38 76.5,259.05 77.5,260.58 78.5,261.02 79.5,261.09 80.5,261.4 81.5,260.68 82.5,259.36 83.5,260.35 84.5,260.85 85.5,261.66 86.5,262.02 87.5,258.3 88.5,261.31 89.5,260.71 90.5,261.32 91.5,260.63 92.5,261.26 93.5,260.69 94.5,259.27 95.5,261.58 96.5,260.24 97.5,260.86 98.5,260.03 99.5,261.5 100.5,260.36 101.5,261.82 102.5,262.7 103.5,262.17 104.5,261.78 105.5,261.96 106.5,261.12 107.5,259.62 108.5,261.98 109.5,260.3 110.5,260.61 111.5,261.51 112.5,261.75 113.5,260.31 114.5,260.25 115.5,261.12 116.5,260.91 117.5,260.75 118.5,262.11 119.5,260.62 120.5,260.4 121.5,258.88 122.5,262.05 123.5,261.62 124.5,260.61 125.5,261.31 126.5,261.11 127.5,260.67 128.5,260.98 129.5,260.7 130.5,260.19 131.5,262.34 132.5,260.05 133.5,262.98 134.5,258.83 135.5,259.64 136.5,261.23 137.5,259.52 138.5,260.73 139.5,260.11 140.5,259.76 141.5,260.18 142.5,260.52 143.5,259.87 144.5,260.7 145.5,260.88 146.5,261.46 147.5,262.35 148.5,258.8 149.5,259.62 150.5,261.88 151.5,259.99 152.5,260.18 153.5,262.67 154.5,261.23 155.5,260.45 156.5,258.54 157.5,259.17 158.5,258.98 159.5,259.95 160.5,259.22 161.5,261.46 162.5,259.58 163.5,259.44 164.5,261.49 165.5,259.89 166.5,258.55 167.5,258.1 168.5,258.61 169.5,260.8 170.5,260.13 171.5,260.55 172.5,258.7 173.5,260.83 174.5,261.02 175.5,261.58 176.5,259.66 177.5,259.39 178.5,260.43 179.5,260.56 180.5,259.93 181.5,258.31 182.5,261.07 183.5,259.67 184.5,259.37 185.5,259.16 186.5,258.2 187.5,258.6 188.5,259.14 189.5,257.85 190.5,258.14 191.5,258.97 192.5,258.98 193.5,260.4 194.5,258.98 195.5,259.87 196.5,260.18 197.5,259.22 198.5,260.67 199.5,259.73 200.5,259.27 201.5,258.32 202.5,258.92 203.5,258.1 204.5,256.79 205.5,257.49 206.5,259.46 207.5,260.01 208.5,259.02 209.5,258.89 210.5,259.92 211.5,259.54 212.5,259.42 213.5,258.15 214.5,255.91 215.5,255.49 216.5,258.19 217.5,257.46 218.5,258.26 219.5,258.37 220.5,256.59 221.5,256.29 222.5,256.81 223.5,255.31 224.5,256.1 225.5,254.41 226.5,255.84 227.5,254.2 228.5,255.05 229.5,254.45 230.5,253.66 231.5,255.42 232.5,254.51 233.5,253.51 234.5,253.41 235.5,252.53 236.5,253.3 237.5,253.5 238.5,251.88 239.5,251.12 240.5,251.9 241.5,249.44 242.5,249.61 243.5,249.09 244.5,248.8 245.5,250.16 246.5,246.73 247.5,249.35 248.5,247.92 249.5,247.29 250.5,247.45 251.5,247.39 252.5,248.25 253.5,247.68 254.5,247.14 255.5,245.78 256.5,247.81 257.5,246.45 258.5,246.79 259.5,247.28 260.5,248.1 261.5,247.87 262.5,249.75 263.5,248.11 264.5,248.17 265.5,249.35 266.5,248.59 267.5,249.15 268.5,250.58 269.5,249.31 270.5,251.09 271.5,248.4 272.5,252.32 273.5,252.45 274.5,252.62 275.5,252.05 276.5,251.43 277.5,252.86 278.5,253.69 279.5,251.6 280.5,252.81 281.5,254.44 282.5,254.54 283.5,256.27 284.5,254.89 285.5,253.39 286.5,256.61 287.5,257.09 288.5,255.69 289.5,258.51 290.5,254.78 291.5,257.98 292.5,257.34 293.5,256.92 294.5,255.67 295.5,256.66 296.5,259.19 297.5,259.11 298.5,257.29 299.5,259.8 300.5,258.06 301.5,258.73 302.5,257.16 303.5,256.85 304.5,260.81 305.5,257.86 306.5,257.73 307.5,259.28 308.5,259.19 309.5,259.9 310.5,259.09 311.5,258.39 312.5,257.5 313.5,257.46 314.5,259.32 315.5,259.95 316.5,258.11 317.5,262.07 318.5,260.72 319.5,258.65 320.5,257.06 321.5,260.23 322.5,259.36 323.5,260.67 324.5,259.63 325.5,259.68 326.5,260.42 327.5,259.27 328.5,259.89 329.5,259.22 330.5,259.99 331.5,261.07 332.5,259.7 333.5,258.99 334.5,260.72 335.5,258.54 336.5,259.49 337.5,260.36 338.5,259.98 339.5,260.47 340.5,261 341.5,259.13 342.5,259.17 343.5,260.6 344.5,260.34 345.5,260.39 346.5,259.47 347.5,258.69 348.5,260.92 349.5,259.93 350.5,260.29 351.5,259.7 352.5,258.8 353.5,261.22 354.5,262.47 355.5,260.52 356.5,262.03 357.5,258.64 358.5,261.11 359.5,260.7 360.5,260.16 361.5,260.21 362.5,260.88 363.5,260.45 364.5,259.48 365.5,260.8 366.5,258.57 367.5,260.13 368.5,262.95 369.5,259.59 370.5,262.35 371.5,260.19 372.5,258.2 373.5,259.44 374.5,261.74 375.5,261.42 376.5,260.56 377.5,259.08 378.5,261.36 379.5,259.46 380.5,260.3 381.5,260.73 382.5,260.8 383.5,258.89 384.5,262.21 385.5,261.84 386.5,259.73 387.5,259.64 388.5,262.03 389.5,261.64 390.5,261.89 391.5,260.13 392.5,261.39 393.5,259.23 394.5,259.92 395.5,260.45 396.5,260.52 397.5,260.18 398.5,259.87 399.5,260.74 400.5,260.49 401.5,259.95 402.5,260.84 403.5,259.74 404.5,260.92 405.5,261.59 406.5,260.6 407.5,259.08 408.5,259.25 409.5,262.47 410.5,260.5 411.5,261.34 412.5,261.17 413.5,261.19 414.5,261.08 415.5,261.39 416.5,261.14 417.5,260.63 418.5,262.11 419.5,262.15 420.5,262.04 421.5,262.05 422.5,260.26 423.5,262.03 424.5,260.97 425.5,260.83 426.5,260.16 427.5,260.87 428.5,259.81 429.5,260.97 430.5,260.65 431.5,260.13 432.5,262.43 433.5,260.52 434.5,259.36 435.5,260.81 436.5,261.18 437.5,258.96 438.5,260.83 439.5,259.66 440.5,263.41 441.5,260.83 442.5,261.47 443.5,260.55 444.5,259.72 445.5,261.11 446.5,261.19 447.5,263.89 448.5,260.14 449.5,259.58 450.5,260.81" fill="none" stroke="#e2f5cc" stroke-width="2.5" stroke-linejoin="round" stroke-linecap="round" />
<polyline points="56.5,260.9 57.5,260.21 58.5,260.61 59.5,259.12 60.5,261.85 61.5,262.68 62.5,260.76 63.5,259.95 64.5,261.74 65.5,261.26 66.5,261.93 67.5,262.56 68.5,262.02 69.5,263.4 70.5,260.97 71.5,260.77 72.5,260.33 73.5,262.11 74.5,261.91 75.5,262.99 76.5,262.76 77.5,260.32 78.5,258.31 79.5,262.34 80.5,261.65 81.5,260.27 82.5,261.96 83.5,260.63 84.5,261.54 85.5,261.54 86.5,260.28 87.5,261.48 88.5,262.53 89.5,260.36 90.5,261.18 91.5,261.78 92.5,262.04 93.5,260.6 94.5,261.94 95.5,261.07 96.5,260.15 97.5,261.3 98.5,260.05 99.5,262.61 100.5,260.54 101.5,260.62 102.5,259.22 103.5,261.14 104.5,260.23 105.5,261.32 106.5,262.25 107.5,262.05 108.5,261.87 109.5,260.33 110.5,261.94 111.5,261.08 112.5,260.18 113.5,259.82 114.5,260.13 115.5,259.55 116.5,262.27 117.5,261.6 118.5,260.76 119.5,259.92 120.5,260.55 121.5,261.86 122.5,261.26 123.5,262.77 124.5,260.21 125.5,262.9 126.5,260.81 127.5,259.91 128.5,260.09 129.5,262.69 130.5,260.79 131.5,261.36 132.5,261.3 133.5,259.28 134.5,260.68 135.5,262.46 136.5,262.08 137.5,260.22 138.5,260.71 139.5,262.12 140.5,262.67 141.5,261.5 142.5,261.37 143.5,260.06 144.5,261.53 145.5,260.19 146.5,259.62 147.5,262.53 148.5,261.47 149.5,259.24 150.5,261.3 151.5,260.84 152.5,259.82 153.5,261.6 154.5,261.23 155.5,262.5 156.5,260.2 157.5,261.27 158.5,261.13 159.5,263.41 160.5,259.72 161.5,259.99 162.5,261.52 163.5,259.41 164.5,263.21 165.5,260.72 166.5,262.38 167.5,257.78 168.5,263.31 169.5,261.85 170.5,261.35 171.5,259.7 172.5,259.66 173.5,260.1 174.5,260.73 175.5,258.23 176.5,261.18 177.5,260.08 178.5,258.55 179.5,261.63 180.5,261.16 181.5,259.14 182.5,259.78 183.5,261.59 184.5,260.15 185.5,258.15 186.5,260.38 187.5,259.24 188.5,259.9 189.5,260.71 190.5,258.27 191.5,258.89 192.5,258.61 193.5,259.96 194.5,259.64 195.5,259.46 196.5,259.17 197.5,259.94 198.5,260.04 199.5,258.08 200.5,260.52 201.5,259.76 202.5,259.62 203.5,259.68 204.5,260.32 205.5,259.77 206.5,258.03 207.5,259.14 208.5,259.43 209.5,256.8 210.5,259.81 211.5,257.21 212.5,257.78 213.5,259.41 214.5,258.26 215.5,258.08 216.5,256.14 217.5,256.33 218.5,257.37 219.5,258.07 220.5,258.35 221.5,256.49 222.5,257.47 223.5,255.86 224.5,255.51 225.5,254.49 226.5,253.37 227.5,253.77 228.5,252.79 229.5,252.76 230.5,250.68 231.5,249.94 232.5,247.98 233.5,246.8 234.5,247.27 235.5,245.89 236.5,241 237.5,237.07 238.5,234.7 239.5,227.32 240.5,223.13 241.5,218.13 242.5,214.51 243.5,216.55 244.5,220.3 245.5,224.07 246.5,230.06 247.5,233.18 248.5,236.55 249.5,241.74 250.5,241.76 251.5,241.71 252.5,245.62 253.5,244.19 254.5,245.64 255.5,246.47 256.5,243.26 257.5,243.12 258.5,244.29 259.5,243.76 260.5,240.89 261.5,239.82 262.5,239.35 263.5,236.06 264.5,233.67 265.5,229.88 266.5,223.55 267.5,218.4 268.5,211.29 269.5,208.3 270.5,208.73 271.5,212.93 272.5,218.13 273.5,224.25 274.5,230.7 275.5,236.92 276.5,239.25 277.5,243.89 278.5,246.55 279.5,247.53 280.5,248.06 281.5,249.47 282.5,250.68 283.5,250.74 284.5,252.04 285.5,253.97 286.5,253.36 287.5,254.96 288.5,254.72 289.5,254.92 290.5,255.96 291.5,257.75 292.5,256.65 293.5,257.08 294.5,257.12 295.5,257.66 296.5,258.6 297.5,259.28 298.5,257.11 299.5,257.14 300.5,257.72 301.5,258.3 302.5,256.36 303.5,257.82 304.5,258.61 305.5,257.88 306.5,258.91 307.5,258.21 308.5,258.74 309.5,258.56 310.5,259.13 311.5,259.74 312.5,258.82 313.5,258.26 314.5,260.43 315.5,260.09 316.5,260.73 317.5,258.76 318.5,259.95 319.5,258.86 320.5,260.64 321.5,259.02 322.5,260.51 323.5,260.44 324.5,259.45 325.5,260.45 326.5,260.7 327.5,259.2 328.5,260.22 329.5,258.92 330.5,257.62 331.5,260.84 332.5,260.64 333.5,261.88 334.5,261.56 335.5,259.76 336.5,260.09 337.5,260.14 338.5,259.98 339.5,261.34 340.5,262.23 341.5,259.41 342.5,260.29 343.5,259.4 344.5,260.61 345.5,259.82 346.5,261.16 347.5,260.64 348.5,260.83 349.5,260.29 350.5,259.26 351.5,260.04 352.5,263.69 353.5,260.85 354.5,260.74 355.5,259.94 356.5,260.64 357.5,261.51 358.5,261.61 359.5,261.17 360.5,261.56 361.5,259.38 362.5,260.24 363.5,260.81 364.5,259.88 365.5,258.68 366.5,261.11 367.5,260.94 368.5,261.23 369.5,262.19 370.5,261.58 371.5,261.9 372.5,260.46 373.5,260.5 374.5,260.08 375.5,261.77 376.5,259.97 377.5,262 378.5,261.19 379.5,259.69 380.5,259.75 381.5,259.91 382.5,258.87 383.5,259.96 384.5,261.29 385.5,261.27 386.5,261.84 387.5,260.81 388.5,261.83 389.5,261.7 390.5,262.08 391.5,262.81 392.5,258.53 393.5,260.17 394.5,263.22 395.5,260.64 396.5,261.68 397.5,263.3 398.5,261.33 399.5,260.9 400.5,260.53 401.5,259.99 402.5,262 403.5,261.18 404.5,260.45 405.5,260.58 406.5,260.75 407.5,261.05 408.5,259.88 409.5,262.45 410.5,262.69 411.5,259.38 412.5,260.73 413.5,260.02 414.5,260.93 415.5,261.54 416.5,261.64 417.5,261.03 418.5,261.66 419.5,261.25 420.5,261.26 421.5,260.34 422.5,260.36 423.5,259.54 424.5,261.91 425.5,261.22 426.5,260.19 427.5,260.82 428.5,263.68 429.5,260.81 430.5,261.19 431.5,261.67 432.5,261.61 433.5,261.92 434.5,259.99 435.5,260.48 436.5,260.96 437.5,260.03 438.5,260.22 439.5,262.02 440.5,262.25 441.5,262.21 442.5,260.41 443.5,261.19 444.5,259.93 445.5,260.64 446.5,261.38 447.5,262.46 448.5,261.44 449.5,258.89 450.5,261.88" fill="none" stroke="#c6e8a6" stroke-width="2.5" stroke-linejoin="round" stroke-linecap="round" />
<polyline points="56.5,261.54 57.5,259.93 58.5,261.35 59.5,262.44 60.5,261.93 61.5,261.45 62.5,261.22 63.5,260.27 64.5,258.76 65.5,259.91 66.5,260.65 67.5,261.32 68.5,262.11 69.5,260.7 70.5,259.98 71.5,260.45 72.5,261.42 73.5,260.6 74.5,261.51 75.5,261.44 76.5,261.51 77.5,261.2 78.5,261.36 79.5,260.25 80.5,261.27 81.5,261.37 82.5,260.21 83.5,260.57 84.5,260.12 85.5,262.05 86.5,259.94 87.5,261.28 88.5,262.34 89.5,261.43 90.5,262.52 91.5,262.28 92.5,261.69 93.5,260.3 94.5,262.63 95.5,260.98 96.5,261.54 97.5,259.69 98.5,261.07 99.5,260.65 100.5,259.84 101.5,262.37 102.5,261.6 103.5,262.76 104.5,262.11 105.5,260.93 106.5,261.42 107.5,260.84 108.5,261.66 109.5,261.95 110.5,261.39 111.5,262.14 112.5,262.37 113.5,262.85 114.5,261.38 115.5,260.81 116.5,262.49 117.5,261.73 118.5,263.58 119.5,262.47 120.5,261.2 121.5,262.58 122.5,260.83 123.5,261.67 124.5,260.89 125.5,261.81 126.5,262.69 127.5,261.27 128.5,260.52 129.5,261.77 130.5,260.85 131.5,261.94 132.5,261.57 133.5,259.96 134.5,261.23 135.5,262.14 136.5,260.64 137.5,261.13 138.5,261.71 139.5,260.47 140.5,264.08 141.5,260.57 142.5,259.23 143.5,260.83 144.5,263.02 145.5,259.74 146.5,258.57 147.5,260.5 148.5,262.14 149.5,261.73 150.5,261.17 151.5,260.84 152.5,259.83 153.5,260.43 154.5,263.25 155.5,261.27 156.5,261.1 157.5,259.07 158.5,261.5 159.5,262.3 160.5,261.2 161.5,260.6 162.5,262.7 163.5,259.74 164.5,260.95 165.5,259.97 166.5,260.08 167.5,260.21 168.5,259.32 169.5,259.03 170.5,261.09 171.5,260.72 172.5,259.58 173.5,260.43 174.5,261.16 175.5,260.43 176.5,261.36 177.5,260.97 178.5,263.88 179.5,260.25 180.5,258.49 181.5,259.57 182.5,259.56 183.5,260.03 184.5,260.92 185.5,259.61 186.5,259.99 187.5,260.12 188.5,259.68 189.5,260.43 190.5,259.65 191.5,259.05 192.5,258.62 193.5,259.4 194.5,258.62 195.5,259.16 196.5,261.52 197.5,261.07 198.5,259.19 199.5,259.97 200.5,258.12 201.5,259.85 202.5,258.75 203.5,258.69 204.5,258.65 205.5,258.24 206.5,257.38 207.5,256.94 208.5,257.2 209.5,256.07 210.5,255.22 211.5,255.4 212.5,255.24 213.5,254.46 214.5,253.34 215.5,252.3 216.5,250.36 217.5,246.1 218.5,245.69 219.5,244.3 220.5,240.64 221.5,236.79 222.5,231.37 223.5,225.56 224.5,221.71 225.5,212.37 226.5,210.92 227.5,208.4 228.5,211.84 229.5,218.46 230.5,225.39 231.5,228.01 232.5,233.86 233.5,240.59 234.5,243.99 235.5,243.85 236.5,248.25 237.5,248.29 238.5,247.83 239.5,250 240.5,249.96 241.5,251.77 242.5,254.14 243.5,253.56 244.5,254.79 245.5,252.84 246.5,254.64 247.5,253.28 248.5,253.99 249.5,254.24 250.5,253.04 251.5,254.06 252.5,254.43 253.5,252.57 254.5,253.62 255.5,255.07 256.5,252.35 257.5,254.98 258.5,253.29 259.5,252.97 260.5,253.74 261.5,254.27 262.5,253.69 263.5,253.64 264.5,254.3 265.5,252.16 266.5,253.46 267.5,253.34 268.5,250.89 269.5,252.65 270.5,252.96 271.5,250.83 272.5,249.94 273.5,248.88 274.5,245.46 275.5,246.45 276.5,242.3 277.5,239.91 278.5,235.59 279.5,232.33 280.5,226.42 281.5,218.91 282.5,210.38 283.5,202.8 284.5,198.72 285.5,203.61 286.5,205.75 287.5,213.45 288.5,221.09 289.5,228.83 290.5,233.01 291.5,239.78 292.5,240.3 293.5,245.46 294.5,246.98 295.5,248.94 296.5,249.74 297.5,252.97 298.5,251.83 299.5,253.16 300.5,252.75 301.5,254.68 302.5,255.68 303.5,257.98 304.5,256.84 305.5,255.15 306.5,257.64 307.5,257.97 308.5,257.87 309.5,257.09 310.5,259.98 311.5,256.52 312.5,257.94 313.5,257.97 314.5,258.86 315.5,256.97 316.5,259.55 317.5,258.39 318.5,259.22 319.5,260.71 320.5,259.65 321.5,258.87 322.5,259.96 323.5,260.17 324.5,259.84 325.5,260.77 326.5,261.08 327.5,259.93 328.5,261.02 329.5,259.53 330.5,259.43 331.5,258.88 332.5,259.25 333.5,260.57 334.5,259.9 335.5,261.54 336.5,259.96 337.5,260.94 338.5,259.08 339.5,261.21 340.5,260.35 341.5,261.34 342.5,259.94 343.5,259.96 344.5,261.66 345.5,258.65 346.5,260.17 347.5,262.15 348.5,261.65 349.5,262.61 350.5,262.81 351.5,260.93 352.5,262.93 353.5,260.43 354.5,262.51 355.5,261.24 356.5,259.12 357.5,261.25 358.5,260.94 359.5,259.65 360.5,261.25 361.5,260.39 362.5,261.79 363.5,261.36 364.5,260.85 365.5,260.98 366.5,261.79 367.5,260.79 368.5,260.41 369.5,260.38 370.5,261.01 371.5,262.03 372.5,260.37 373.5,260.21 374.5,262.1 375.5,263.46 376.5,261.3 377.5,260.08 378.5,260.24 379.5,262.35 380.5,259.79 381.5,262.07 382.5,260.22 383.5,261.61 384.5,260.19 385.5,260.67 386.5,261.43 387.5,260.48 388.5,261.89 389.5,261.61 390.5,261.55 391.5,262.11 392.5,260.29 393.5,260.29 394.5,261.25 395.5,262.25 396.5,260.79 397.5,260.98 398.5,260.63 399.5,261.3 400.5,261.52 401.5,259.87 402.5,261.93 403.5,261.5 404.5,263.14 405.5,261.71 406.5,261.82 407.5,261.68 408.5,260.74 409.5,261.96 410.5,260.92 411.5,261.74 412.5,261.82 413.5,263.26 414.5,260.95 415.5,260.74 416.5,262.39 417.5,262 418.5,263.25 419.5,261.78 420.5,262.55 421.5,261.04 422.5,261.56 423.5,260.83 424.5,262.31 425.5,263.2 426.5,261.54 427.5,262.07 428.5,259.6 429.5,261.23 430.5,260.01 431.5,260.94 432.5,261.81 433.5,263.04 434.5,261.73 435.5,260.85 436.5,261.41 437.5,261.15 438.5,261.18 439.5,262.86 440.5,261.18 441.5,262.32 442.5,261.54 443.5,260.11 444.5,263.52 445.5,261.77 446.5,261.15 447.5,260.4 448.5,261.44 449.5,262.36 450.5,260.71" fill="none" stroke="#aedd86" stroke-width="2.5" stroke-linejoin="round" stroke-linecap="round" />
<polyline points="56.5,262.81 57.5,260.94 58.5,262.75 59.5,263.69 60.5,262.01 61.5,261.95 62.5,263.17 63.5,259.07 64.5,262.32 65.5,260.59 66.5,260.22 67.5,258.72 68.5,261.3 69.5,259.29 70.5,262.1 71.5,260.96 72.5,261.33 73.5,261.94 74.5,260.56 75.5,258.94 76.5,258.72 77.5,260.19 78.5,262.05 79.5,261.72 80.5,260.26 81.5,260.29 82.5,260.3 83.5,261.15 84.5,261.8 85.5,260.4 86.5,260.89 87.5,259.4 88.5,261.57 89.5,259.98 90.5,259.45 91.5,258.8 92.5,258.82 93.5,261.9 94.5,262.05 95.5,260.68 96.5,261.72 97.5,263.28 98.5,259.29 99.5,260.3 100.5,259.74 101.5,260.61 102.5,259.58 103.5,260.51 104.5,260.63 105.5,258.79 106.5,261.97 107.5,260.21 108.5,262.4 109.5,259.21 110.5,260.99 111.5,262 112.5,262.63 113.5,260.97 114.5,258.7 115.5,260.22 116.5,262.35 117.5,262.85 118.5,257.78 119.5,261.32 120.5,262.25 121.5,260.56 122.5,260.1 123.5,259.05 124.5,260.9 125.5,261.43 126.5,259.97 127.5,261.51 128.5,260.29 129.5,260.47 130.5,259.63 131.5,261.38 132.5,261.34 133.5,260.33 134.5,260.13 135.5,262.14 136.5,261.44 137.5,260.41 138.5,260.97 139.5,258.19 140.5,259.81 141.5,259.24 142.5,260.61 143.5,260.43 144.5,260.38 145.5,259.38 146.5,260.82 147.5,258.82 148.5,261.21 149.5,259.38 150.5,260.13 151.5,260.77 152.5,258.72 153.5,259.33 154.5,260.52 155.5,261.11 156.5,259.42 157.5,261.1 158.5,259.67 159.5,261.15 160.5,260.07 161.5,261.06 162.5,260.33 163.5,258.37 164.5,258.25 165.5,260.52 166.5,260.27 167.5,261.7 168.5,259.59 169.5,258.68 170.5,260.7 171.5,260.71 172.5,259.33 173.5,260.24 174.5,259.38 175.5,257.89 176.5,258.96 177.5,258.65 178.5,257.31 179.5,258.93 180.5,258.36 181.5,258.91 182.5,259.64 183.5,257.05 184.5,260.03 185.5,258.34 186.5,259.46 187.5,258.92 188.5,259.2 189.5,257.88 190.5,256.86 191.5,255.69 192.5,258.67 193.5,256.08 194.5,256.29 195.5,256.01 196.5,254.89 197.5,253.87 198.5,253.38 199.5,252.31 200.5,248.88 201.5,249.67 202.5,247.76 203.5,247.27 204.5,242.45 205.5,241.09 206.5,236.93 207.5,233.17 208.5,227.27 209.5,222.47 210.5,217.28 211.5,212.94 212.5,209.73 213.5,210.45 214.5,214.41 215.5,219.93 216.5,226.33 217.5,234.73 218.5,239.56 219.5,241.81 220.5,246.45 221.5,246.68 222.5,248.57 223.5,252.07 224.5,251.44 225.5,251.64 226.5,253.4 227.5,254.77 228.5,255.14 229.5,254.88 230.5,256.47 231.5,255.62 232.5,256.44 233.5,257.14 234.5,257.54 235.5,256.07 236.5,257.67 237.5,256.58 238.5,258.77 239.5,257.1 240.5,256.8 241.5,256.56 242.5,255.95 243.5,256.37 244.5,256.32 245.5,257.15 246.5,257.91 247.5,258.01 248.5,257.57 249.5,256.5 250.5,255.68 251.5,256.33 252.5,256.46 253.5,255.86 254.5,256.96 255.5,256.43 256.5,256.72 257.5,256.39 258.5,256.83 259.5,257.94 260.5,257.01 261.5,257.47 262.5,254.86 263.5,255.18 264.5,257.31 265.5,257.56 266.5,256.66 267.5,258.22 268.5,255.39 269.5,256.71 270.5,257.11 271.5,255.5 272.5,255.2 273.5,256.28 274.5,255.3 275.5,257.92 276.5,256.84 277.5,256.73 278.5,257.3 279.5,254.46 280.5,252.54 281.5,255.95 282.5,254.67 283.5,252.39 284.5,253.05 285.5,251.85 286.5,251.55 287.5,249 288.5,248.61 289.5,244.64 290.5,242.1 291.5,238.69 292.5,235.31 293.5,229.01 294.5,221.3 295.5,214.75 296.5,207.05 297.5,202.77 298.5,199.68 299.5,201.93 300.5,206.15 301.5,215.05 302.5,222.11 303.5,225.61 304.5,231.07 305.5,237.8 306.5,240.79 307.5,245.13 308.5,245.76 309.5,246.36 310.5,248.53 311.5,251.79 312.5,251.57 313.5,253.56 314.5,253.33 315.5,254.92 316.5,254.32 317.5,254.2 318.5,255.62 319.5,255.99 320.5,256.31 321.5,256.13 322.5,257.74 323.5,257.74 324.5,257.95 325.5,256.64 326.5,258.01 327.5,257.76 328.5,258.87 329.5,260.02 330.5,259.08 331.5,258.39 332.5,259.3 333.5,259.67 334.5,259.56 335.5,258.73 336.5,258.9 337.5,259.41 338.5,260.45 339.5,260.25 340.5,255.91 341.5,259.84 342.5,259.09 343.5,259.46 344.5,261.23 345.5,258.51 346.5,259.82 347.5,260.86 348.5,259.2 349.5,260.59 350.5,259.72 351.5,261.44 352.5,260.3 353.5,259.46 354.5,260.67 355.5,261.63 356.5,261.06 357.5,259.56 358.5,261.89 359.5,261.71 360.5,259.53 361.5,260.22 362.5,260.41 363.5,260.83 364.5,259.99 365.5,259.56 366.5,259.97 367.5,262.23 368.5,259.81 369.5,262.16 370.5,258.73 371.5,260.96 372.5,259.89 373.5,260.19 374.5,261.19 375.5,259.32 376.5,260.33 377.5,258.39 378.5,259.89 379.5,260.23 380.5,258.01 381.5,259.15 382.5,260.57 383.5,261.4 384.5,258.62 385.5,259.34 386.5,259.35 387.5,260.94 388.5,261.24 389.5,261.53 390.5,259.45 391.5,260.79 392.5,259.96 393.5,262.88 394.5,259.6 395.5,261.4 396.5,263.47 397.5,262 398.5,260.27 399.5,259.14 400.5,263.55 401.5,262.13 402.5,260.6 403.5,262.35 404.5,261.2 405.5,261.83 406.5,260.68 407.5,262.31 408.5,261.15 409.5,261.67 410.5,260.67 411.5,260.88 412.5,259.78 413.5,260.58 414.5,259 415.5,262.48 416.5,261.09 417.5,260.03 418.5,260.72 419.5,263.56 420.5,260.5 421.5,261.35 422.5,258.29 423.5,260.95 424.5,260.14 425.5,261.83 426.5,260.13 427.5,263.74 428.5,261.91 429.5,261.25 430.5,262.52 431.5,259.84 432.5,260.85 433.5,259.14 434.5,262.33 435.5,261.73 436.5,260.19 437.5,261.4 438.5,260 439.5,260.2 440.5,261.65 441.5,260.75 442.5,260.31 443.5,260.62 444.5,261.09 445.5,261.38 446.5,261.11 447.5,259.86 448.5,258.73 449.5,262.36 450.5,261.93" fill="none" stroke="#98d468" stroke-width="2.5" stroke-linejoin="round" stroke-linecap="round" />
<polyline points="56.5,259.68 57.5,262.09 58.5,258.76 59.5,258.81 60.5,263.67 61.5,260.47 62.5,260.54 63.5,261.61 64.5,263.11 65.5,260.88 66.5,261.57 67.5,259.92 68.5,260.55 69.5,262.13 70.5,259.09 71.5,259.21 72.5,259.56 73.5,261.05 74.5,260.14 75.5,261 76.5,261.67 77.5,263.06 78.5,260.8 79.5,263.16 80.5,260.35 81.5,262.51 82.5,260.85 83.5,261.38 84.5,262.27 85.5,262.16 86.5,261.68 87.5,259.5 88.5,260.67 89.5,261.35 90.5,260.2 91.5,262.29 92.5,262.65 93.5,262 94.5,259.98 95.5,261.37 96.5,260.94 97.5,260.94 98.5,261.51 99.5,259.76 100.5,260.31 101.5,261.96 102.5,262.14 103.5,261.1 104.5,262.02 105.5,261.06 106.5,260.28 107.5,260.99 108.5,260.84 109.5,261.56 110.5,261.88 111.5,262.11 112.5,259.65 113.5,261.82 114.5,260.92 115.5,260.89 116.5,260.53 117.5,261.34 118.5,262.67 119.5,258.77 120.5,262.09 121.5,260.32 122.5,262.08 123.5,260.23 124.5,262.05 125.5,259.12 126.5,260.41 127.5,262.57 128.5,259.1 129.5,262.87 130.5,261.22 131.5,259.67 132.5,261.24 133.5,259.46 134.5,260.76 135.5,261.42 136.5,259.44 137.5,260.71 138.5,261.24 139.5,259.72 140.5,260.97 141.5,262.14 142.5,261.43 143.5,258.01 144.5,258.18 145.5,262.25 146.5,259.71 147.5,259.22 148.5,260.8 149.5,259.75 150.5,261.52 151.5,260.76 152.5,259.25 153.5,260.39 154.5,260.45 155.5,260.51 156.5,261.62 157.5,261.22 158.5,260.65 159.5,260.16 160.5,260.88 161.5,257.87 162.5,261.68 163.5,260.88 164.5,260.32 165.5,258.97 166.5,260.97 167.5,259.03 168.5,260.08 169.5,259.88 170.5,258.41 171.5,257.82 172.5,257.4 173.5,259.54 174.5,256.95 175.5,256.66 176.5,257.12 177.5,256.64 178.5,256.69 179.5,256.45 180.5,254.86 181.5,253.4 182.5,254.78 183.5,253.34 184.5,251.79 185.5,253.19 186.5,248.65 187.5,248.45 188.5,245.43 189.5,245.04 190.5,242.97 191.5,238.96 192.5,234.63 193.5,231.49 194.5,224.56 195.5,220.1 196.5,216.83 197.5,211.79 198.5,211.15 199.5,212.75 200.5,218.05 201.5,224.66 202.5,231.46 203.5,235.56 204.5,240.19 205.5,243.36 206.5,247.54 207.5,248.6 208.5,250 209.5,253.61 210.5,253.35 211.5,252.17 212.5,255.88 213.5,256.35 214.5,256.63 215.5,257.62 216.5,256.54 217.5,257.91 218.5,258.23 219.5,259.22 220.5,258.04 221.5,258.92 222.5,259.43 223.5,259.49 224.5,257.6 225.5,259.42 226.5,259.24 227.5,258.19 228.5,259.83 229.5,258.78 230.5,260.94 231.5,259.24 232.5,262.25 233.5,259.89 234.5,260.56 235.5,260.91 236.5,259.04 237.5,259.44 238.5,259.34 239.5,258.69 240.5,259.75 241.5,259.73 242.5,260.42 243.5,258.38 244.5,259.45 245.5,261.24 246.5,261.34 247.5,261.22 248.5,261.23 249.5,259.09 250.5,260.15 251.5,259.34 252.5,261.28 253.5,261.29 254.5,259.18 255.5,262.6 256.5,261.74 257.5,262.71 258.5,261.18 259.5,257.73 260.5,261.26 261.5,259.33 262.5,258.69 263.5,261.11 264.5,261.15 265.5,260.02 266.5,259.64 267.5,261.99 268.5,261.16 269.5,258.54 270.5,261.1 271.5,259.81 272.5,259.08 273.5,260.48 274.5,260.27 275.5,260.61 276.5,260.67 277.5,260.56 278.5,261.57 279.5,260.31 280.5,259.93 281.5,258.86 282.5,259.95 283.5,260.1 284.5,257.29 285.5,259.16 286.5,259.24 287.5,259.38 288.5,258.65 289.5,259.34 290.5,258.73 291.5,258.82 292.5,258.89 293.5,257.72 294.5,258.28 295.5,254.53 296.5,256.99 297.5,253.25 298.5,253.97 299.5,252.42 300.5,250.65 301.5,252.5 302.5,247.29 303.5,246.31 304.5,244.59 305.5,241.42 306.5,235.89 307.5,232.51 308.5,222.37 309.5,216.95 310.5,208.5 311.5,203.46 312.5,201.95 313.5,203.48 314.5,208.05 315.5,211.42 316.5,218.86 317.5,224.19 318.5,229.53 319.5,233.87 320.5,237.95 321.5,240.29 322.5,244.94 323.5,247.52 324.5,248.43 325.5,250.19 326.5,251.08 327.5,251.01 328.5,252.16 329.5,253.38 330.5,255.48 331.5,254.73 332.5,255.6 333.5,255.46 334.5,256.66 335.5,257.42 336.5,257.19 337.5,258.36 338.5,258.78 339.5,257.85 340.5,258.29 341.5,257.45 342.5,258.5 343.5,260.03 344.5,257.53 345.5,257.39 346.5,260.34 347.5,259.94 348.5,258.4 349.5,259.31 350.5,261.13 351.5,258.5 352.5,259.66 353.5,259.49 354.5,258.68 355.5,260.64 356.5,260.77 357.5,259.38 358.5,259.16 359.5,260.05 360.5,259.01 361.5,259.81 362.5,259.16 363.5,261.17 364.5,260.58 365.5,259.3 366.5,261.31 367.5,261.29 368.5,260.35 369.5,260.81 370.5,261.52 371.5,262.27 372.5,259.2 373.5,260.56 374.5,259.18 375.5,261.58 376.5,260.61 377.5,260.87 378.5,260.62 379.5,262.36 380.5,259.5 381.5,261.07 382.5,260.57 383.5,261.83 384.5,259.24 385.5,262.4 386.5,258.9 387.5,261.28 388.5,261.24 389.5,261.59 390.5,259.46 391.5,261.8 392.5,261.83 393.5,261.91 394.5,260.44 395.5,260.4 396.5,261.71 397.5,260.44 398.5,259.4 399.5,260.28 400.5,260.6 401.5,262.05 402.5,259.41 403.5,260.32 404.5,262.49 405.5,261.8 406.5,263.88 407.5,260.53 408.5,262.34 409.5,261.34 410.5,259.65 411.5,262.55 412.5,260.21 413.5,261.42 414.5,262.23 415.5,259.79 416.5,260.7 417.5,261.84 418.5,260.6 419.5,261.76 420.5,262.04 421.5,261.54 422.5,260.14 423.5,262.81 424.5,262.52 425.5,260.27 426.5,262.62 427.5,261.4 428.5,261.51 429.5,262.53 430.5,261.97 431.5,261.33 432.5,261.29 433.5,260.56 434.5,260.99 435.5,260.27 436.5,261 437.5,261.66 438.5,260.57 439.5,260.77 440.5,260.33 441.5,261.38 442.5,261.36 443.5,261.35 444.5,262.76 445.5,260.76 446.5,261.91 447.5,262.02 448.5,261.61 449.5,259.09 450.5,262.05" fill="none" stroke="#82cc4a" stroke-width="2.5" stroke-linejoin="round" stroke-linecap="round" />
<polyline points="56.5,262.67 57.5,260.8 58.5,258.52 59.5,260.31 60.5,260.1 61.5,261.07 62.5,262.5 63.5,259.94 64.5,259.51 65.5,259.37 66.5,258.48 67.5,260.53 68.5,259.9 69.5,262.64 70.5,260.79 71.5,260.28 72.5,259.11 73.5,258.51 74.5,258.75 75.5,259.93 76.5,260.54 77.5,260.47 78.5,260.44 79.5,260.24 80.5,259.16 81.5,260.57 82.5,262.09 83.5,261.6 84.5,257.33 85.5,258.97 86.5,260.86 87.5,260.62 88.5,259.59 89.5,260.02 90.5,260 91.5,262.36 92.5,261.74 93.5,260.15 94.5,259.58 95.5,259.96 96.5,258.66 97.5,260.22 98.5,260 99.5,260.19 100.5,259.24 101.5,260.87 102.5,258.12 103.5,261.33 104.5,259.4 105.5,259.45 106.5,258.55 107.5,261.34 108.5,261.11 109.5,260.45 110.5,259.4 111.5,259.25 112.5,262.79 113.5,260.44 114.5,259.84 115.5,259.73 116.5,259.7 117.5,260.21 118.5,259.93 119.5,261.97 120.5,259.11 121.5,262.5 122.5,260.17 123.5,260.92 124.5,259.61 125.5,260.95 126.5,259 127.5,259.53 128.5,259.22 129.5,258.72 130.5,258.63 131.5,259.98 132.5,258.91 133.5,259.22 134.5,258.89 135.5,259.48 136.5,262.22 137.5,259.82 138.5,259.54 139.5,259.99 140.5,260.15 141.5,259.21 142.5,260.02 143.5,258.57 144.5,257.88 145.5,259.09 146.5,258.14 147.5,260.16 148.5,259.87 149.5,259.07 150.5,259.62 151.5,258.46 152.5,258.3 153.5,256.6 154.5,258.62 155.5,256.61 156.5,258.76 157.5,257.74 158.5,256.42 159.5,256.67 160.5,259.23 161.5,256.45 162.5,255.57 163.5,257.18 164.5,255.64 165.5,254.96 166.5,253.63 167.5,252.05 168.5,253.94 169.5,252.53 170.5,248.92 171.5,248.02 172.5,245.98 173.5,245.98 174.5,242.78 175.5,243.78 176.5,237.88 177.5,235.85 178.5,232.3 179.5,227.52 180.5,220.68 181.5,215.63 182.5,213.89 183.5,211.43 184.5,209.59 185.5,214.31 186.5,218.57 187.5,224.32 188.5,229.62 189.5,236.25 190.5,243.08 191.5,243.83 192.5,245.65 193.5,249.03 194.5,250.89 195.5,252.7 196.5,252.44 197.5,253.67 198.5,254.35 199.5,255.3 200.5,254.56 201.5,256 202.5,256.82 203.5,258.25 204.5,257.83 205.5,257.68 206.5,256.4 207.5,257.63 208.5,258.64 209.5,257.69 210.5,257.96 211.5,259.19 212.5,258.38 213.5,260.07 214.5,258.94 215.5,257.07 216.5,258.21 217.5,258.64 218.5,258.45 219.5,258.68 220.5,260.65 221.5,259.97 222.5,260.26 223.5,259.12 224.5,258.7 225.5,257.59 226.5,259.85 227.5,260.88 228.5,259.46 229.5,259.82 230.5,259.54 231.5,259.81 232.5,259.34 233.5,260.45 234.5,259.58 235.5,258.9 236.5,259.73 237.5,259.37 238.5,260.59 239.5,259.07 240.5,260.06 241.5,260.64 242.5,260.2 243.5,260.38 244.5,260.17 245.5,260.56 246.5,258.28 247.5,259.1 248.5,259.54 249.5,259.55 250.5,260.12 251.5,259.2 252.5,260.27 253.5,260.11 254.5,260.82 255.5,258.81 256.5,258.84 257.5,258.93 258.5,258.9 259.5,262.43 260.5,259.93 261.5,258.99 262.5,259.51 263.5,261.61 264.5,259.71 265.5,259.31 266.5,260.55 267.5,261.16 268.5,260.6 269.5,262.99 270.5,259.71 271.5,260.82 272.5,260.28 273.5,260.12 274.5,260.02 275.5,258.31 276.5,260.76 277.5,260.12 278.5,262.02 279.5,260.53 280.5,261.78 281.5,259.02 282.5,259.79 283.5,260.36 284.5,258.81 285.5,260.71 286.5,259.8 287.5,260.41 288.5,260.47 289.5,259.71 290.5,260.03 291.5,259.49 292.5,260.4 293.5,260.79 294.5,257.73 295.5,258.64 296.5,259.3 297.5,258.59 298.5,259.7 299.5,258.16 300.5,259.88 301.5,257.75 302.5,257.66 303.5,257.88 304.5,256.85 305.5,257.38 306.5,255.28 307.5,255.99 308.5,257.77 309.5,256.76 310.5,253.51 311.5,255.09 312.5,253.39 313.5,253.38 314.5,250.16 315.5,249.22 316.5,247.85 317.5,247.02 318.5,244.34 319.5,239.41 320.5,237.37 321.5,234.02 322.5,224.28 323.5,218.1 324.5,213.58 325.5,206.4 326.5,203.49 327.5,204.66 328.5,206.14 329.5,211.02 330.5,218.3 331.5,222.94 332.5,226.81 333.5,231.22 334.5,236.36 335.5,238.12 336.5,242.89 337.5,243.52 338.5,248.12 339.5,247.49 340.5,247.29 341.5,249.03 342.5,252.44 343.5,255.52 344.5,252.97 345.5,252.83 346.5,254.4 347.5,254.78 348.5,256.89 349.5,256.43 350.5,257.55 351.5,257.89 352.5,257.42 353.5,255.66 354.5,256.97 355.5,258.36 356.5,257.93 357.5,258.91 358.5,258.69 359.5,258.05 360.5,259.92 361.5,258.21 362.5,259.27 363.5,257.62 364.5,259.79 365.5,258.7 366.5,259.88 367.5,258.55 368.5,260.95 369.5,259.77 370.5,260.17 371.5,260.97 372.5,259.78 373.5,259.65 374.5,260.11 375.5,260.59 376.5,260.3 377.5,260.37 378.5,258.6 379.5,259.16 380.5,258.38 381.5,258.79 382.5,257.92 383.5,259.74 384.5,259.51 385.5,259.72 386.5,260.23 387.5,259.17 388.5,259.47 389.5,259.38 390.5,259.62 391.5,258.84 392.5,261.35 393.5,259.35 394.5,259.99 395.5,260.6 396.5,260.31 397.5,259.49 398.5,259.17 399.5,260.25 400.5,259.3 401.5,259.66 402.5,259.01 403.5,259.03 404.5,259.29 405.5,260.44 406.5,261.22 407.5,258.7 408.5,260.94 409.5,259.28 410.5,260.05 411.5,258.47 412.5,260.26 413.5,260.46 414.5,262.24 415.5,259.54 416.5,260.19 417.5,260.79 418.5,260.59 419.5,258.9 420.5,259.8 421.5,259.35 422.5,260.45 423.5,259.89 424.5,259.26 425.5,260.49 426.5,258.91 427.5,260.46 428.5,258.27 429.5,260.78 430.5,260.67 431.5,260.09 432.5,260.56 433.5,260.32 434.5,260.25 435.5,258.99 436.5,260.72 437.5,259.05 438.5,259.35 439.5,260.09 440.5,260.44 441.5,258.33 442.5,262.81 443.5,260.72 444.5,260.38 445.5,259.72 446.5,260.22 447.5,259.33 448.5,259.71 449.5,259.17 450.5,260.88" fill="none" stroke="#6cc42a" stroke-width="2.5" stroke-linejoin="round" stroke-linecap="round" />
<polyline points="56.5,258.98 57.5,261.31 58.5,260.45 59.5,262.07 60.5,260.24 61.5,261.44 62.5,260.02 63.5,261.81 64.5,260.61 65.5,261.69 66.5,260.68 67.5,260.23 68.5,258.32 69.5,260.22 70.5,260.16 71.5,258.77 72.5,259.55 73.5,261.7 74.5,260.09 75.5,260.51 76.5,259.79 77.5,260.09 78.5,262.42 79.5,261.2 80.5,258.79 81.5,259.76 82.5,261.51 83.5,261.13 84.5,260.92 85.5,262.02 86.5,264.04 87.5,260.13 88.5,261.75 89.5,261.39 90.5,261.46 91.5,261.09 92.5,261.13 93.5,259.08 94.5,260.99 95.5,260.04 96.5,260.67 97.5,259.31 98.5,260.5 99.5,262.69 100.5,258.73 101.5,258.86 102.5,259.87 103.5,262.21 104.5,259.18 105.5,260.17 106.5,261.38 107.5,261.09 108.5,259.28 109.5,261.14 110.5,260.63 111.5,261.23 112.5,259.88 113.5,261.32 114.5,259.78 115.5,260.67 116.5,258.2 117.5,260.77 118.5,260.17 119.5,259.23 120.5,259.3 121.5,261.75 122.5,259.94 123.5,259.67 124.5,259.33 125.5,260.17 126.5,258.39 127.5,258.45 128.5,260.22 129.5,260.9 130.5,259.79 131.5,259.05 132.5,258.43 133.5,260.68 134.5,260.07 135.5,261.34 136.5,260.21 137.5,257.94 138.5,256.78 139.5,258.06 140.5,258.83 141.5,258.82 142.5,256.34 143.5,256.93 144.5,257.77 145.5,258.33 146.5,258.33 147.5,257.27 148.5,255.09 149.5,256.87 150.5,256.61 151.5,255.53 152.5,255.6 153.5,253.78 154.5,255.18 155.5,253.29 156.5,253.24 157.5,250.64 158.5,250.18 159.5,249.75 160.5,247.91 161.5,245.52 162.5,241.75 163.5,240.17 164.5,237.57 165.5,235.8 166.5,233.12 167.5,230.09 168.5,226.58 169.5,223.92 170.5,223.94 171.5,224.52 172.5,230.35 173.5,233.75 174.5,238.1 175.5,242.7 176.5,247.17 177.5,248.4 178.5,248.72 179.5,253.22 180.5,251.9 181.5,253 182.5,255 183.5,255.32 184.5,256.38 185.5,256.76 186.5,255.72 187.5,256.41 188.5,256.9 189.5,257.94 190.5,258.58 191.5,258.4 192.5,260.19 193.5,259.94 194.5,259.1 195.5,261.17 196.5,259.43 197.5,259.68 198.5,259.83 199.5,259.87 200.5,260.5 201.5,257.72 202.5,261.96 203.5,260.78 204.5,261.93 205.5,259.79 206.5,259.25 207.5,258.36 208.5,261.03 209.5,259.62 210.5,261.28 211.5,260.45 212.5,259.72 213.5,261.97 214.5,260.64 215.5,261.14 216.5,260.12 217.5,259.68 218.5,262.07 219.5,260.68 220.5,262.02 221.5,262.99 222.5,261.76 223.5,261.31 224.5,261.9 225.5,261.81 226.5,259.32 227.5,260.55 228.5,259.55 229.5,259.19 230.5,260.5 231.5,258 232.5,260.21 233.5,260.53 234.5,261.52 235.5,261.04 236.5,260.3 237.5,260.59 238.5,260.44 239.5,260.33 240.5,262.11 241.5,261.53 242.5,261.12 243.5,261.28 244.5,262.12 245.5,260.82 246.5,261.65 247.5,259.7 248.5,261.58 249.5,260.51 250.5,262.82 251.5,260.93 252.5,259.73 253.5,260.71 254.5,260.09 255.5,260.55 256.5,261.08 257.5,260.25 258.5,260.33 259.5,260.36 260.5,261.37 261.5,261.27 262.5,263.62 263.5,260.66 264.5,261.86 265.5,261.55 266.5,259.91 267.5,260.56 268.5,260.35 269.5,261.5 270.5,260.25 271.5,260.72 272.5,260.53 273.5,260.85 274.5,259.02 275.5,261.88 276.5,260.46 277.5,260.4 278.5,259.71 279.5,260.14 280.5,261.15 281.5,260.48 282.5,259.05 283.5,259.5 284.5,261.01 285.5,260.39 286.5,260.7 287.5,259.18 288.5,260.97 289.5,259.15 290.5,258.79 291.5,260.61 292.5,258.12 293.5,260.67 294.5,260.61 295.5,259.61 296.5,260.89 297.5,260.22 298.5,261.52 299.5,260.69 300.5,260.15 301.5,261.6 302.5,259.43 303.5,259.35 304.5,260.2 305.5,259.36 306.5,259.3 307.5,260.76 308.5,259.31 309.5,259.58 310.5,260.42 311.5,259.26 312.5,260.67 313.5,262.4 314.5,258.91 315.5,258.99 316.5,257.23 317.5,259.28 318.5,257.87 319.5,259.49 320.5,259.54 321.5,258.44 322.5,257.6 323.5,257.53 324.5,255.96 325.5,255.44 326.5,257.44 327.5,256.03 328.5,252.88 329.5,252.45 330.5,253.96 331.5,252.2 332.5,247.72 333.5,248.74 334.5,243.94 335.5,244.19 336.5,238.57 337.5,235.03 338.5,228.86 339.5,223.42 340.5,221.07 341.5,219.59 342.5,220.37 343.5,222.05 344.5,226.47 345.5,232.27 346.5,235.38 347.5,236.11 348.5,239.38 349.5,241.52 350.5,245.26 351.5,247.38 352.5,250.49 353.5,251.16 354.5,251.37 355.5,252.98 356.5,254.88 357.5,252.44 358.5,254.61 359.5,254.94 360.5,255.61 361.5,256.2 362.5,257.68 363.5,256.03 364.5,257.83 365.5,258.57 366.5,256.46 367.5,257.88 368.5,257.55 369.5,260.34 370.5,256.71 371.5,259.55 372.5,260.01 373.5,259.37 374.5,260.07 375.5,260.09 376.5,258.76 377.5,257.84 378.5,259.68 379.5,259.49 380.5,259.5 381.5,259.44 382.5,261.01 383.5,258 384.5,261.3 385.5,260.54 386.5,257.77 387.5,260.07 388.5,261.04 389.5,259.91 390.5,257.62 391.5,260.02 392.5,261.29 393.5,259.91 394.5,259.85 395.5,261.08 396.5,259.97 397.5,262.6 398.5,259.79 399.5,260.06 400.5,260.21 401.5,261 402.5,258.92 403.5,259.65 404.5,258.95 405.5,261.02 406.5,259.6 407.5,258.6 408.5,258.94 409.5,261.41 410.5,260.5 411.5,261.15 412.5,260.79 413.5,260.51 414.5,258.68 415.5,258.94 416.5,260.69 417.5,259.62 418.5,261.19 419.5,261.88 420.5,262.56 421.5,261.49 422.5,258.51 423.5,260.41 424.5,260.05 425.5,259.52 426.5,262.7 427.5,260.9 428.5,260.63 429.5,259.33 430.5,260.24 431.5,262.44 432.5,262.49 433.5,260.38 434.5,260.49 435.5,262.19 436.5,262.18 437.5,260.64 438.5,262.11 439.5,260.36 440.5,261 441.5,261.04 442.5,258.7 443.5,261.63 444.5,261.95 445.5,261.32 446.5,263.3 447.5,259.97 448.5,260.11 449.5,260.71 450.5,260.84" fill="none" stroke="#5cb818" stroke-width="2.5" stroke-linejoin="round" stroke-linecap="round" />
<polyline points="56.5,262.73 57.5,261.27 58.5,261.14 59.5,260.23 60.5,260.79 61.5,260.02 62.5,260.37 63.5,263.18 64.5,261.87 65.5,260.4 66.5,261.5 67.5,261.06 68.5,260.15 69.5,262.08 70.5,260.84 71.5,259.31 72.5,260.96 73.5,261.74 74.5,260.98 75.5,261.37 76.5,262.28 77.5,260.29 78.5,260.93 79.5,262.9 80.5,259.67 81.5,261.9 82.5,260.83 83.5,260.42 84.5,261.02 85.5,262.19 86.5,263.31 87.5,261.43 88.5,260.6 89.5,262.1 90.5,261.23 91.5,259.45 92.5,261.82 93.5,256.55 94.5,260.34 95.5,261.97 96.5,260.25 97.5,260.92 98.5,259.27 99.5,261.95 100.5,259.88 101.5,261.73 102.5,260.19 103.5,258.93 104.5,260.33 105.5,259.03 106.5,260.74 107.5,259.4 108.5,261.03 109.5,260.57 110.5,260.24 111.5,261.78 112.5,261.14 113.5,260.74 114.5,258.26 115.5,259.84 116.5,261.15 117.5,261.15 118.5,259.9 119.5,260.92 120.5,259.42 121.5,260.69 122.5,260.54 123.5,258.44 124.5,261.16 125.5,256.64 126.5,259.7 127.5,260.3 128.5,257.92 129.5,257.2 130.5,256.75 131.5,257.31 132.5,258.33 133.5,257.46 134.5,256.79 135.5,255.62 136.5,255.07 137.5,254.85 138.5,254.1 139.5,256.71 140.5,254.17 141.5,251.48 142.5,252.19 143.5,250.6 144.5,249.92 145.5,247.72 146.5,246.47 147.5,245.84 148.5,240.96 149.5,238.37 150.5,237.09 151.5,235.68 152.5,231.5 153.5,230.66 154.5,227.3 155.5,228.81 156.5,232.21 157.5,234.54 158.5,235.63 159.5,241.44 160.5,245.36 161.5,247.51 162.5,250.72 163.5,250.39 164.5,254.28 165.5,253.36 166.5,253.87 167.5,254.79 168.5,256.57 169.5,257.45 170.5,257.44 171.5,257.61 172.5,257.62 173.5,258.52 174.5,258.5 175.5,259.47 176.5,260.04 177.5,258.17 178.5,259.05 179.5,258.87 180.5,257.98 181.5,260.62 182.5,260.61 183.5,260.45 184.5,259.2 185.5,261.71 186.5,260.98 187.5,259.47 188.5,262.03 189.5,259.68 190.5,258.77 191.5,260.06 192.5,261.43 193.5,261.05 194.5,261.66 195.5,260.72 196.5,259.67 197.5,259.62 198.5,263.1 199.5,261.56 200.5,260.41 201.5,261.15 202.5,263.4 203.5,260.59 204.5,260.26 205.5,260.85 206.5,260.94 207.5,259.89 208.5,262.4 209.5,261.22 210.5,260.49 211.5,257.31 212.5,261.71 213.5,260.12 214.5,259.12 215.5,260.15 216.5,260.05 217.5,259.64 218.5,262.87 219.5,260.45 220.5,261.47 221.5,259.37 222.5,260.55 223.5,260.73 224.5,260.81 225.5,262.35 226.5,260.04 227.5,262.74 228.5,261.24 229.5,261.41 230.5,259.99 231.5,261.03 232.5,261.95 233.5,260.32 234.5,259.2 235.5,262.14 236.5,259.57 237.5,261.76 238.5,261.29 239.5,261.27 240.5,262.17 241.5,259.33 242.5,260.22 243.5,260.41 244.5,262.51 245.5,260.35 246.5,262.01 247.5,259.6 248.5,262.95 249.5,260.29 250.5,262.73 251.5,262.64 252.5,260.83 253.5,260.15 254.5,259.87 255.5,261.5 256.5,261.66 257.5,260.08 258.5,262.31 259.5,262.27 260.5,260.5 261.5,260.58 262.5,260.97 263.5,259.73 264.5,262.82 265.5,260.55 266.5,258.7 267.5,261.5 268.5,262.41 269.5,259.71 270.5,260.44 271.5,259.73 272.5,260.27 273.5,261.51 274.5,261.25 275.5,262.28 276.5,258.21 277.5,262 278.5,261.38 279.5,261.73 280.5,260.52 281.5,259.47 282.5,261.53 283.5,260.5 284.5,260.19 285.5,258.62 286.5,261.2 287.5,260.67 288.5,259.19 289.5,262.48 290.5,260.95 291.5,260.84 292.5,262.12 293.5,261.14 294.5,260.68 295.5,259.7 296.5,259.91 297.5,261.47 298.5,261.87 299.5,259.84 300.5,262.47 301.5,261.42 302.5,262.04 303.5,262.51 304.5,260.53 305.5,262.31 306.5,261.45 307.5,259.44 308.5,259.09 309.5,262.17 310.5,261.7 311.5,261.62 312.5,262.09 313.5,259.24 314.5,259.68 315.5,260.07 316.5,261.6 317.5,259.72 318.5,260.29 319.5,260.48 320.5,259.79 321.5,258.91 322.5,260.37 323.5,260.68 324.5,261.28 325.5,258.63 326.5,259.53 327.5,262.52 328.5,259.72 329.5,258.91 330.5,261.34 331.5,261.1 332.5,258.28 333.5,259.53 334.5,260.6 335.5,258.81 336.5,258.23 337.5,259.35 338.5,258.87 339.5,257.62 340.5,257.3 341.5,254.86 342.5,254.73 343.5,254.87 344.5,255.26 345.5,254.15 346.5,254.58 347.5,250.72 348.5,249.13 349.5,247.02 350.5,242.65 351.5,238.68 352.5,238.15 353.5,231.94 354.5,228.71 355.5,228.12 356.5,228.31 357.5,226.9 358.5,229.92 359.5,230.96 360.5,236.75 361.5,239.79 362.5,241.54 363.5,242.69 364.5,244.3 365.5,245.44 366.5,249.77 367.5,251.98 368.5,250.58 369.5,251.69 370.5,252.92 371.5,252.76 372.5,255.8 373.5,257.24 374.5,253.86 375.5,256.16 376.5,257.19 377.5,256.38 378.5,255.18 379.5,257.62 380.5,256.22 381.5,258.19 382.5,256.45 383.5,258.46 384.5,257.56 385.5,259 386.5,258.48 387.5,259.01 388.5,259.8 389.5,259.35 390.5,258.82 391.5,259.78 392.5,260.31 393.5,259.37 394.5,258.35 395.5,260.05 396.5,261.08 397.5,261.01 398.5,260.1 399.5,258.44 400.5,261.33 401.5,259.07 402.5,260.52 403.5,261.07 404.5,260.96 405.5,259.21 406.5,260.96 407.5,259.05 408.5,258.37 409.5,261.47 410.5,261.95 411.5,262.47 412.5,260.06 413.5,261.6 414.5,261.35 415.5,261.54 416.5,259.29 417.5,260.04 418.5,260.12 419.5,262.62 420.5,261.69 421.5,260.87 422.5,260.96 423.5,260.52 424.5,259.16 425.5,260.15 426.5,260.04 427.5,261.04 428.5,261.35 429.5,261.43 430.5,261.05 431.5,262.69 432.5,261.57 433.5,260.94 434.5,261.49 435.5,261.04 436.5,262.95 437.5,261.59 438.5,261 439.5,259.8 440.5,260.91 441.5,261.28 442.5,261.66 443.5,261.01 444.5,261.6 445.5,260.3 446.5,261.65 447.5,260.38 448.5,261.77 449.5,262.67 450.5,262.63" fill="none" stroke="#4c9a10" stroke-width="2.5" stroke-linejoin="round" stroke-linecap="round" />
<polyline points="56.5,261.22 57.5,261.12 58.5,257.91 59.5,261.83 60.5,260.63 61.5,262.02 62.5,261.23 63.5,260.01 64.5,260.88 65.5,258.55 66.5,261.53 67.5,261.26 68.5,261.99 69.5,260.48 70.5,261.31 71.5,260.63 72.5,261.32 73.5,259.97 74.5,261.12 75.5,260.33 76.5,260.53 77.5,261.17 78.5,260.36 79.5,260.35 80.5,259.78 81.5,262.38 82.5,258.72 83.5,260.12 84.5,259.78 85.5,259.64 86.5,261.61 87.5,259.37 88.5,259.8 89.5,260.59 90.5,259.19 91.5,260.28 92.5,261.03 93.5,259.01 94.5,259.07 95.5,259.49 96.5,259.93 97.5,258.07 98.5,260.28 99.5,259.39 100.5,259.74 101.5,259.69 102.5,258.92 103.5,260.36 104.5,258.73 105.5,258.87 106.5,259.41 107.5,259.71 108.5,260.28 109.5,258.63 110.5,256.81 111.5,259.09 112.5,259.23 113.5,258.79 114.5,257.61 115.5,257.14 116.5,257.05 117.5,257.19 118.5,258.11 119.5,255.42 120.5,256.45 121.5,255.26 122.5,255.08 123.5,254.6 124.5,253.12 125.5,253.08 126.5,250.22 127.5,249.89 128.5,249.37 129.5,249.32 130.5,246.74 131.5,245.57 132.5,243.33 133.5,241.96 134.5,240.92 135.5,238.63 136.5,235.55 137.5,232.71 138.5,232.28 139.5,232.12 140.5,231.92 141.5,232.78 142.5,236.78 143.5,240.05 144.5,242.56 145.5,244.82 146.5,249.16 147.5,250.31 148.5,251.55 149.5,253.33 150.5,253.44 151.5,254 152.5,256.39 153.5,253.75 154.5,256.36 155.5,255.56 156.5,256.8 157.5,259.79 158.5,259.49 159.5,258.15 160.5,258.09 161.5,258.18 162.5,261.02 163.5,259.78 164.5,258.76 165.5,258.05 166.5,258.92 167.5,260.99 168.5,260.22 169.5,260.06 170.5,260.23 171.5,258.78 172.5,258.7 173.5,258.63 174.5,261.15 175.5,261.36 176.5,261.66 177.5,260.4 178.5,260.07 179.5,261.63 180.5,259.96 181.5,260.01 182.5,260.5 183.5,259.84 184.5,261.36 185.5,261.47 186.5,258.86 187.5,260.78 188.5,259.4 189.5,261.11 190.5,262.8 191.5,259.9 192.5,261.76 193.5,261.39 194.5,259.59 195.5,262.1 196.5,260.8 197.5,259.35 198.5,258.44 199.5,261.57 200.5,260.39 201.5,261.25 202.5,259.3 203.5,261.09 204.5,259.2 205.5,261.89 206.5,259.79 207.5,259.06 208.5,259.92 209.5,260.6 210.5,261.14 211.5,262 212.5,259.65 213.5,259.67 214.5,260.29 215.5,261.96 216.5,261.59 217.5,260.81 218.5,258.89 219.5,258.73 220.5,259.67 221.5,262.16 222.5,262.83 223.5,260.67 224.5,260.24 225.5,259 226.5,261.65 227.5,259.57 228.5,261.09 229.5,260.15 230.5,261.35 231.5,261.28 232.5,261.4 233.5,260.99 234.5,261.8 235.5,261.66 236.5,260.51 237.5,262.1 238.5,261.18 239.5,261.42 240.5,261.06 241.5,259.54 242.5,261.55 243.5,259.07 244.5,262.72 245.5,261.73 246.5,260.04 247.5,263.31 248.5,261.02 249.5,260.31 250.5,262.26 251.5,259.21 252.5,258.81 253.5,260.67 254.5,260.72 255.5,259.88 256.5,259.7 257.5,261.19 258.5,261.15 259.5,258.58 260.5,260.46 261.5,260.88 262.5,261.62 263.5,263.8 264.5,260.87 265.5,260.65 266.5,260.79 267.5,260.92 268.5,259.86 269.5,260.41 270.5,260.51 271.5,260.91 272.5,261.07 273.5,260.59 274.5,261.44 275.5,259.51 276.5,260.41 277.5,260.69 278.5,258.56 279.5,259.84 280.5,261.89 281.5,261.58 282.5,260.77 283.5,261.2 284.5,259.3 285.5,259.88 286.5,259.73 287.5,259.54 288.5,259.7 289.5,262.54 290.5,262.1 291.5,261.71 292.5,260.11 293.5,260.41 294.5,258.71 295.5,259.29 296.5,259.21 297.5,261.32 298.5,260.69 299.5,259.57 300.5,261.76 301.5,261.31 302.5,258.7 303.5,258.36 304.5,262.43 305.5,260.65 306.5,261.85 307.5,262.67 308.5,261.46 309.5,260 310.5,259.89 311.5,260.28 312.5,259.18 313.5,261.42 314.5,260.81 315.5,258.94 316.5,259.72 317.5,261.34 318.5,261.78 319.5,260.43 320.5,260.26 321.5,260.11 322.5,260.6 323.5,260.29 324.5,261.05 325.5,260.44 326.5,261.04 327.5,261.66 328.5,260.18 329.5,261.12 330.5,261.08 331.5,259.61 332.5,259.81 333.5,258.15 334.5,258.29 335.5,260.42 336.5,260.28 337.5,260.63 338.5,261.32 339.5,258.17 340.5,259.02 341.5,260.24 342.5,257.68 343.5,258.74 344.5,258.53 345.5,259.69 346.5,261.59 347.5,258.24 348.5,259.54 349.5,260.11 350.5,257.73 351.5,257.43 352.5,258.74 353.5,257.43 354.5,256.45 355.5,256.44 356.5,256.49 357.5,253.59 358.5,254.63 359.5,252.06 360.5,252.11 361.5,250.81 362.5,247.26 363.5,247 364.5,243.24 365.5,239.98 366.5,236.07 367.5,234.3 368.5,233.7 369.5,233.15 370.5,233.69 371.5,234.22 372.5,234.9 373.5,237.2 374.5,239.62 375.5,241.44 376.5,244.21 377.5,245.4 378.5,246.97 379.5,246.32 380.5,250.2 381.5,251.34 382.5,252.42 383.5,253.85 384.5,252.89 385.5,255.79 386.5,252.87 387.5,257.21 388.5,256.06 389.5,255.33 390.5,256.18 391.5,256.27 392.5,258.95 393.5,256.66 394.5,257.22 395.5,256.37 396.5,258.23 397.5,258.28 398.5,260.24 399.5,258.09 400.5,259.93 401.5,258.51 402.5,257.13 403.5,260.07 404.5,258.96 405.5,259.86 406.5,260.01 407.5,261.48 408.5,259.97 409.5,259.24 410.5,258.29 411.5,258.04 412.5,259.91 413.5,258.81 414.5,259.95 415.5,260.84 416.5,260.42 417.5,259.05 418.5,259.27 419.5,261.85 420.5,259.51 421.5,260.44 422.5,259.47 423.5,259.98 424.5,261.52 425.5,261.64 426.5,260.31 427.5,260.24 428.5,260.14 429.5,261.53 430.5,258.83 431.5,262.84 432.5,258.94 433.5,260.56 434.5,260.94 435.5,258.6 436.5,260.53 437.5,260.36 438.5,260.99 439.5,259.88 440.5,259.87 441.5,258.88 442.5,259.23 443.5,260.47 444.5,261.15 445.5,260.94 446.5,261.31 447.5,260.98 448.5,261.14 449.5,260.19 450.5,260.41" fill="none" stroke="#3e7e12" stroke-width="2.5" stroke-linejoin="round" stroke-linecap="round" />
<polyline points="56.5,260.83 57.5,263.45 58.5,261.2 59.5,263.53 60.5,261.48 61.5,260.39 62.5,260.84 63.5,262.21 64.5,261.23 65.5,261.16 66.5,261.61 67.5,260.83 68.5,261.65 69.5,261.82 70.5,261.95 71.5,260.41 72.5,261.84 73.5,262.41 74.5,259.95 75.5,261.56 76.5,262.27 77.5,260.05 78.5,261.32 79.5,261.24 80.5,261.48 81.5,259.86 82.5,259.77 83.5,259.39 84.5,261.1 85.5,257.81 86.5,260.89 87.5,261.37 88.5,260.44 89.5,261.9 90.5,260.75 91.5,260.26 92.5,259.53 93.5,258.17 94.5,258.96 95.5,259.57 96.5,259.07 97.5,260.2 98.5,257.24 99.5,258.35 100.5,257.86 101.5,258.67 102.5,258.71 103.5,258.59 104.5,258.12 105.5,257.45 106.5,255.55 107.5,256.7 108.5,254.81 109.5,253.94 110.5,253.75 111.5,252.46 112.5,254.88 113.5,251.19 114.5,250.8 115.5,247.61 116.5,247.19 117.5,246.27 118.5,244.08 119.5,241.95 120.5,238.32 121.5,238.55 122.5,235.96 123.5,235.26 124.5,233.3 125.5,232.73 126.5,233.38 127.5,235.57 128.5,236.52 129.5,240.02 130.5,243.58 131.5,247.34 132.5,248.52 133.5,250.72 134.5,251.44 135.5,253.1 136.5,255.42 137.5,255 138.5,254.4 139.5,256.36 140.5,258.58 141.5,258.33 142.5,257.23 143.5,257.25 144.5,260.4 145.5,257.94 146.5,257.5 147.5,257.9 148.5,260.95 149.5,259.7 150.5,258.44 151.5,259.15 152.5,260.45 153.5,261.15 154.5,260.29 155.5,259.75 156.5,261.42 157.5,260.62 158.5,259.18 159.5,259.18 160.5,260.41 161.5,259.22 162.5,260.84 163.5,261.39 164.5,261.47 165.5,261.93 166.5,261.33 167.5,261.24 168.5,258.69 169.5,259.89 170.5,258.59 171.5,262.03 172.5,260.26 173.5,261.5 174.5,262.54 175.5,260.44 176.5,261.77 177.5,260.3 178.5,258.4 179.5,261.02 180.5,261.25 181.5,261.87 182.5,262.75 183.5,261.43 184.5,262.06 185.5,261.03 186.5,261.58 187.5,260.9 188.5,260.72 189.5,260 190.5,262.43 191.5,262.1 192.5,259.77 193.5,260.33 194.5,262.02 195.5,258.65 196.5,264.24 197.5,261.73 198.5,261.66 199.5,260.83 200.5,262.74 201.5,261.35 202.5,261.13 203.5,260.14 204.5,263.36 205.5,262.09 206.5,262.04 207.5,260.36 208.5,259.38 209.5,259.62 210.5,262.16 211.5,261.19 212.5,261.61 213.5,261.47 214.5,262.18 215.5,261.24 216.5,261.54 217.5,260.84 218.5,261.62 219.5,258.78 220.5,263.18 221.5,262.06 222.5,262.04 223.5,261.26 224.5,260.48 225.5,261.5 226.5,258.28 227.5,261.05 228.5,259.92 229.5,261.5 230.5,262.2 231.5,258.84 232.5,262.31 233.5,263.01 234.5,262.18 235.5,261.23 236.5,259.97 237.5,261.72 238.5,261.7 239.5,261.15 240.5,260.61 241.5,262.29 242.5,261.12 243.5,262.02 244.5,260.98 245.5,260.9 246.5,260.36 247.5,259.53 248.5,261.96 249.5,262.36 250.5,261.25 251.5,261.34 252.5,261.35 253.5,260.52 254.5,261.22 255.5,260.46 256.5,261.31 257.5,261.48 258.5,262.24 259.5,260.65 260.5,261.31 261.5,260.09 262.5,260.7 263.5,261.91 264.5,261.13 265.5,261.47 266.5,261.52 267.5,262.8 268.5,261.16 269.5,261.3 270.5,262.64 271.5,261.08 272.5,261.01 273.5,262.56 274.5,262.55 275.5,261.13 276.5,260.62 277.5,261.09 278.5,263.23 279.5,262.53 280.5,260.85 281.5,262.45 282.5,260.32 283.5,260.26 284.5,262.26 285.5,261.16 286.5,260.68 287.5,260.92 288.5,261.87 289.5,261.61 290.5,261.49 291.5,259.77 292.5,260.73 293.5,260.2 294.5,261.14 295.5,260.83 296.5,260.49 297.5,261.56 298.5,262.14 299.5,260.97 300.5,261.79 301.5,261.94 302.5,262.16 303.5,262.79 304.5,261.24 305.5,262.33 306.5,262.17 307.5,261.68 308.5,262.61 309.5,260.82 310.5,260.46 311.5,262.49 312.5,261.72 313.5,261.57 314.5,261.59 315.5,261.25 316.5,260.97 317.5,261.97 318.5,260.56 319.5,263.26 320.5,262.35 321.5,260.34 322.5,261.71 323.5,260.92 324.5,260.06 325.5,259.51 326.5,262.36 327.5,262 328.5,261.97 329.5,261.93 330.5,260.91 331.5,263.15 332.5,260.74 333.5,261.2 334.5,259.64 335.5,262.69 336.5,260.46 337.5,261.49 338.5,261.79 339.5,260.18 340.5,260.14 341.5,262.39 342.5,260.13 343.5,261.23 344.5,261.32 345.5,261.38 346.5,260.94 347.5,261.43 348.5,260.67 349.5,263.21 350.5,259.75 351.5,260.34 352.5,261.14 353.5,260.12 354.5,260.66 355.5,259.76 356.5,259.2 357.5,259.71 358.5,263.17 359.5,258.63 360.5,259.76 361.5,259 362.5,260.33 363.5,259.5 364.5,259.36 365.5,258.31 366.5,257.86 367.5,257.91 368.5,257.63 369.5,256.56 370.5,255.8 371.5,255.62 372.5,255.91 373.5,253.83 374.5,254.21 375.5,252.04 376.5,249.21 377.5,250.26 378.5,247.63 379.5,246.05 380.5,238.87 381.5,237.55 382.5,234.51 383.5,232.91 384.5,232.89 385.5,234.16 386.5,234.18 387.5,236.98 388.5,237.29 389.5,238.39 390.5,239.73 391.5,244.92 392.5,246.23 393.5,248.39 394.5,250.69 395.5,251.48 396.5,251.59 397.5,251.46 398.5,252.11 399.5,255.04 400.5,254.15 401.5,255.63 402.5,255.72 403.5,255.38 404.5,255.85 405.5,256.26 406.5,257.23 407.5,257.56 408.5,257.84 409.5,257.74 410.5,258.65 411.5,258.3 412.5,258.79 413.5,257.72 414.5,260.22 415.5,259.79 416.5,259.43 417.5,259.72 418.5,262 419.5,258.75 420.5,258.43 421.5,261.71 422.5,261.47 423.5,258.84 424.5,261.76 425.5,260.19 426.5,260.46 427.5,260.84 428.5,260.11 429.5,261.62 430.5,262.21 431.5,261.22 432.5,260.85 433.5,260.5 434.5,259.92 435.5,259.27 436.5,260.28 437.5,260.9 438.5,260.39 439.5,262.11 440.5,261.65 441.5,261.73 442.5,262.56 443.5,260.22 444.5,262.09 445.5,262.49 446.5,262.08 447.5,259.59 448.5,259.84 449.5,260.86 450.5,260.48" fill="none" stroke="#336212" stroke-width="2.5" stroke-linejoin="round" stroke-linecap="round" />
<polyline points="56.5,262.31 57.5,261.07 58.5,262.4 59.5,262.75 60.5,262.04 61.5,260.47 62.5,259.73 63.5,262.22 64.5,259.76 65.5,262.37 66.5,260.93 67.5,261.05 68.5,261.32 69.5,259.16 70.5,260.02 71.5,260.7 72.5,259.62 73.5,261.29 74.5,260.1 75.5,258.98 76.5,259.92 77.5,258.27 78.5,261.22 79.5,261.25 80.5,260.17 81.5,259.96 82.5,260.12 83.5,257.99 84.5,258.89 85.5,260.06 86.5,259.54 87.5,258.17 88.5,259.6 89.5,257.69 90.5,258.79 91.5,257.46 92.5,256.76 93.5,258.06 94.5,256.55 95.5,255.93 96.5,254.79 97.5,253.45 98.5,253.49 99.5,253.89 100.5,251.91 101.5,251.26 102.5,249.27 103.5,246.64 104.5,245.13 105.5,243.15 106.5,243.33 107.5,242.34 108.5,239.76 109.5,237.14 110.5,236.34 111.5,236 112.5,234.45 113.5,233.6 114.5,236.86 115.5,238.67 116.5,239.84 117.5,245.32 118.5,246.47 119.5,250.97 120.5,252.19 121.5,253.05 122.5,253.04 123.5,255.06 124.5,256.57 125.5,256.16 126.5,255.88 127.5,256.44 128.5,259.25 129.5,258.11 130.5,259.65 131.5,258.64 132.5,258.49 133.5,260.96 134.5,257.82 135.5,262.11 136.5,260.16 137.5,262.24 138.5,261.1 139.5,259.1 140.5,259.44 141.5,258.91 142.5,261.26 143.5,262 144.5,262.06 145.5,258.15 146.5,260.15 147.5,262.21 148.5,261.26 149.5,261.41 150.5,260.38 151.5,262.01 152.5,263.23 153.5,262.25 154.5,260.93 155.5,261.44 156.5,262.13 157.5,262.88 158.5,260.35 159.5,260.99 160.5,262.52 161.5,262.22 162.5,259.79 163.5,261.98 164.5,260.32 165.5,261.87 166.5,261.88 167.5,262.21 168.5,261.13 169.5,261.26 170.5,262.66 171.5,260 172.5,262.2 173.5,262.35 174.5,260.59 175.5,262.58 176.5,262.01 177.5,261.55 178.5,260.89 179.5,263.49 180.5,262.82 181.5,264.32 182.5,261.31 183.5,261.6 184.5,261.29 185.5,261.59 186.5,262.56 187.5,261.31 188.5,263.01 189.5,262.89 190.5,262.28 191.5,260.91 192.5,263.28 193.5,258.89 194.5,262.71 195.5,263.57 196.5,261.81 197.5,262.86 198.5,261.3 199.5,261.1 200.5,263.03 201.5,261.48 202.5,262.57 203.5,261.73 204.5,262.52 205.5,262.15 206.5,261.68 207.5,260.54 208.5,262.45 209.5,261.23 210.5,260.43 211.5,262.85 212.5,260.9 213.5,262.34 214.5,261.67 215.5,261.55 216.5,262.29 217.5,260.5 218.5,260.73 219.5,261.88 220.5,262.06 221.5,261.96 222.5,261.45 223.5,261.46 224.5,263.44 225.5,261.33 226.5,261.52 227.5,262.39 228.5,262.82 229.5,263.77 230.5,261.7 231.5,262.72 232.5,262.48 233.5,259.4 234.5,263.54 235.5,264.05 236.5,261.3 237.5,263.89 238.5,262.64 239.5,262.06 240.5,263.07 241.5,260.89 242.5,262.07 243.5,261.95 244.5,262.83 245.5,263.18 246.5,262.36 247.5,260.18 248.5,262.2 249.5,261.55 250.5,261.64 251.5,263.04 252.5,261.34 253.5,262.66 254.5,263.92 255.5,264.02 256.5,261.46 257.5,260.16 258.5,261.44 259.5,260.98 260.5,263.29 261.5,265.11 262.5,260.29 263.5,261.11 264.5,263.77 265.5,261.85 266.5,262.13 267.5,262.24 268.5,263.19 269.5,261.68 270.5,261.37 271.5,263.49 272.5,261.71 273.5,263.61 274.5,261.39 275.5,262.31 276.5,261.15 277.5,261.6 278.5,263.76 279.5,263.17 280.5,262 281.5,261.48 282.5,260.82 283.5,263.29 284.5,262.21 285.5,259.6 286.5,261.95 287.5,263.02 288.5,263.89 289.5,261.6 290.5,261.11 291.5,262.84 292.5,261.17 293.5,260.88 294.5,260.55 295.5,261.31 296.5,262.29 297.5,262.77 298.5,261.06 299.5,263.41 300.5,260.42 301.5,261.34 302.5,262.29 303.5,263.88 304.5,262.88 305.5,263.55 306.5,263.11 307.5,261.51 308.5,259.68 309.5,263.08 310.5,262.85 311.5,259.84 312.5,261.89 313.5,261.62 314.5,262.7 315.5,260.34 316.5,261.88 317.5,261.17 318.5,261.1 319.5,260.34 320.5,261.52 321.5,262.55 322.5,261.36 323.5,262 324.5,263.74 325.5,262.55 326.5,263.5 327.5,262.08 328.5,262.4 329.5,262.28 330.5,263.61 331.5,261.33 332.5,261.7 333.5,260.78 334.5,263.12 335.5,262.39 336.5,262.55 337.5,261.38 338.5,262.57 339.5,261.27 340.5,262.97 341.5,261.36 342.5,261.65 343.5,261.84 344.5,261.96 345.5,261.87 346.5,260.76 347.5,260.67 348.5,260.78 349.5,261.55 350.5,262.2 351.5,262.28 352.5,261.89 353.5,261.68 354.5,262.18 355.5,262.79 356.5,262.61 357.5,260.72 358.5,262.18 359.5,261.48 360.5,261.84 361.5,261.06 362.5,261.58 363.5,260.1 364.5,261.01 365.5,262.32 366.5,261.09 367.5,262.16 368.5,261.34 369.5,259.95 370.5,262.2 371.5,260.11 372.5,260.64 373.5,259.38 374.5,260.28 375.5,259.17 376.5,259.84 377.5,258.55 378.5,259.28 379.5,260.03 380.5,258.78 381.5,258.58 382.5,256.41 383.5,258.55 384.5,258.76 385.5,255.25 386.5,256.41 387.5,256.56 388.5,254.67 389.5,253.15 390.5,251.17 391.5,246.53 392.5,246.7 393.5,243.1 394.5,240.23 395.5,238.19 396.5,236.55 397.5,230.84 398.5,232.55 399.5,233.25 400.5,232.77 401.5,235.67 402.5,237.13 403.5,237.55 404.5,241.06 405.5,242.36 406.5,244.83 407.5,244.65 408.5,249.41 409.5,252.04 410.5,250.36 411.5,251.92 412.5,249.67 413.5,253.36 414.5,254.12 415.5,254.12 416.5,255.22 417.5,255.44 418.5,257.48 419.5,257.31 420.5,255.88 421.5,258.95 422.5,258.43 423.5,257.94 424.5,257.81 425.5,258.76 426.5,258.35 427.5,258.37 428.5,259.27 429.5,260.29 430.5,259.2 431.5,260.41 432.5,260.51 433.5,258.78 434.5,259.68 435.5,261.41 436.5,262.17 437.5,261.28 438.5,260.28 439.5,260 440.5,260.71 441.5,258.68 442.5,260.93 443.5,261.89 444.5,261.03 445.5,260.02 446.5,260.57 447.5,260.71 448.5,259.76 449.5,260.06 450.5,259.57" fill="none" stroke="#2a4a12" stroke-width="2.5" stroke-linejoin="round" stroke-linecap="round" />
<polyline points="56.5,230.3 57.5,230.29 58.5,230.29 59.5,230.28 60.5,230.27 61.5,230.26 62.5,230.25 63.5,230.24 64.5,230.23 65.5,230.22 66.5,230.21 67.5,230.2 68.5,230.19 69.5,230.18 70.5,230.17 71.5,230.16 72.5,230.15 73.5,230.13 74.5,230.12 75.5,230.11 76.5,230.09 77.5,230.08 78.5,230.06 79.5,230.05 80.5,230.03 81.5,230.02 82.5,230 83.5,229.98 84.5,229.96 85.5,229.95 86.5,229.93 87.5,229.91 88.5,229.89 89.5,229.87 90.5,229.84 91.5,229.82 92.5,229.8 93.5,229.77 94.5,229.75 95.5,229.72 96.5,229.7 97.5,229.67 98.5,229.64 99.5,229.61 100.5,229.58 101.5,229.55 102.5,229.52 103.5,229.48 104.5,229.45 105.5,229.41 106.5,229.38 107.5,229.34 108.5,229.3 109.5,229.26 110.5,229.21 111.5,229.17 112.5,229.12 113.5,229.08 114.5,229.03 115.5,228.98 116.5,228.92 117.5,228.87 118.5,228.81 119.5,228.76 120.5,228.7 121.5,228.63 122.5,228.57 123.5,228.5 124.5,228.43 125.5,228.36 126.5,228.29 127.5,228.21 128.5,228.13 129.5,228.05 130.5,227.96 131.5,227.87 132.5,227.78 133.5,227.69 134.5,227.59 135.5,227.49 136.5,227.38 137.5,227.27 138.5,227.16 139.5,227.04 140.5,226.92 141.5,226.8 142.5,226.67 143.5,226.53 144.5,226.39 145.5,226.25 146.5,226.1 147.5,225.94 148.5,225.78 149.5,225.62 150.5,225.45 151.5,225.27 152.5,225.08 153.5,224.89 154.5,224.7 155.5,224.49 156.5,224.28 157.5,224.06 158.5,223.83 159.5,223.6 160.5,223.36 161.5,223.11 162.5,222.85 163.5,222.58 164.5,222.3 165.5,222.02 166.5,221.72 167.5,221.42 168.5,221.1 169.5,220.77 170.5,220.44 171.5,220.09 172.5,219.73 173.5,219.36 174.5,218.97 175.5,218.58 176.5,218.17 177.5,217.75 178.5,217.32 179.5,216.87 180.5,216.41 181.5,215.94 182.5,215.45 183.5,214.95 184.5,214.43 185.5,213.9 186.5,213.35 187.5,212.79 188.5,212.21 189.5,211.62 190.5,211.01 191.5,210.38 192.5,209.74 193.5,209.09 194.5,208.41 195.5,207.72 196.5,207.02 197.5,206.3 198.5,205.56 199.5,204.8 200.5,204.03 201.5,203.25 202.5,202.44 203.5,201.63 204.5,200.8 205.5,199.95 206.5,199.09 207.5,198.21 208.5,197.32 209.5,196.42 210.5,195.51 211.5,194.58 212.5,193.65 213.5,192.7 214.5,191.75 215.5,190.79 216.5,189.81 217.5,188.84 218.5,187.86 219.5,186.87 220.5,185.88 221.5,184.89 222.5,183.9 223.5,182.91 224.5,181.93 225.5,180.95 226.5,179.97 227.5,179 228.5,178.04 229.5,177.09 230.5,176.15 231.5,175.23 232.5,174.32 233.5,173.43 234.5,172.56 235.5,171.72 236.5,170.89 237.5,170.09 238.5,169.31 239.5,168.57 240.5,167.85 241.5,167.16 242.5,166.51 243.5,165.89 244.5,165.31 245.5,164.77 246.5,164.26 247.5,163.8 248.5,163.37 249.5,162.99 250.5,162.65 251.5,162.36 252.5,162.11 253.5,161.9 254.5,161.74 255.5,161.63 256.5,161.57 257.5,161.55 258.5,161.58 259.5,161.66 260.5,161.78 261.5,161.95 262.5,162.17 263.5,162.43 264.5,162.73 265.5,163.08 266.5,163.48 267.5,163.91 268.5,164.39 269.5,164.9 270.5,165.46 271.5,166.05 272.5,166.68 273.5,167.34 274.5,168.03 275.5,168.76 276.5,169.51 277.5,170.3 278.5,171.1 279.5,171.94 280.5,172.79 281.5,173.67 282.5,174.56 283.5,175.47 284.5,176.4 285.5,177.34 286.5,178.29 287.5,179.25 288.5,180.22 289.5,181.2 290.5,182.18 291.5,183.17 292.5,184.16 293.5,185.15 294.5,186.14 295.5,187.13 296.5,188.11 297.5,189.09 298.5,190.07 299.5,191.04 300.5,192 301.5,192.95 302.5,193.89 303.5,194.83 304.5,195.75 305.5,196.66 306.5,197.56 307.5,198.44 308.5,199.31 309.5,200.17 310.5,201.01 311.5,201.84 312.5,202.66 313.5,203.45 314.5,204.23 315.5,205 316.5,205.75 317.5,206.49 318.5,207.2 319.5,207.9 320.5,208.59 321.5,209.26 322.5,209.91 323.5,210.55 324.5,211.17 325.5,211.77 326.5,212.36 327.5,212.94 328.5,213.5 329.5,214.04 330.5,214.57 331.5,215.08 332.5,215.58 333.5,216.06 334.5,216.53 335.5,216.99 336.5,217.43 337.5,217.86 338.5,218.28 339.5,218.68 340.5,219.08 341.5,219.46 342.5,219.82 343.5,220.18 344.5,220.53 345.5,220.86 346.5,221.18 347.5,221.5 348.5,221.8 349.5,222.09 350.5,222.38 351.5,222.65 352.5,222.92 353.5,223.17 354.5,223.42 355.5,223.66 356.5,223.89 357.5,224.12 358.5,224.34 359.5,224.55 360.5,224.75 361.5,224.94 362.5,225.13 363.5,225.31 364.5,225.49 365.5,225.66 366.5,225.83 367.5,225.98 368.5,226.14 369.5,226.29 370.5,226.43 371.5,226.57 372.5,226.7 373.5,226.83 374.5,226.95 375.5,227.07 376.5,227.19 377.5,227.3 378.5,227.41 379.5,227.51 380.5,227.62 381.5,227.71 382.5,227.81 383.5,227.9 384.5,227.98 385.5,228.07 386.5,228.15 387.5,228.23 388.5,228.31 389.5,228.38 390.5,228.45 391.5,228.52 392.5,228.59 393.5,228.65 394.5,228.71 395.5,228.77 396.5,228.83 397.5,228.88 398.5,228.94 399.5,228.99 400.5,229.04 401.5,229.09 402.5,229.14 403.5,229.18 404.5,229.22 405.5,229.27 406.5,229.31 407.5,229.35 408.5,229.39 409.5,229.42 410.5,229.46 411.5,229.49 412.5,229.53 413.5,229.56 414.5,229.59 415.5,229.62 416.5,229.65 417.5,229.68 418.5,229.7 419.5,229.73 420.5,229.76 421.5,229.78 422.5,229.8 423.5,229.83 424.5,229.85 425.5,229.87 426.5,229.89 427.5,229.91 428.5,229.93 429.5,229.95 430.5,229.97 431.5,229.99 432.5,230 433.5,230.02 434.5,230.04 435.5,230.05 436.5,230.07 437.5,230.08 438.5,230.1 439.5,230.11 440.5,230.12 441.5,230.14 442.5,230.15 443.5,230.16 444.5,230.17 445.5,230.18 446.5,230.2 447.5,230.21 448.5,230.22 449.5,230.23 450.5,230.24" fill="none" stroke="#000" stroke-width="1.8" stroke-linejoin="round" stroke-linecap="round" stroke-dasharray="6.5 4.7" stroke-linecap="butt"/>
<polyline points="220.1,197.2 221.1,197.36 222.1,197.53 223.1,197.71 224.1,197.9 225.1,198.11 226.1,198.32 227.1,198.54 228.1,198.78 229.1,199.03 230.1,199.31 231.1,199.63 232.1,199.99 233.1,200.4 234.1,200.85 235.1,201.35 236.1,201.9 237.1,202.52 238.1,203.29 239.1,204.16 240.1,205.11 241.1,206.09 242.1,207.13 243.1,208.29 244.1,209.65 245.1,211.36 246.1,213.47 247.1,215.88 248.1,218.6 249.1,221.9 250.1,225.36 251.1,228.49 252.1,231.76 253.1,235.14 254.1,237.88 255.1,239.26 256.1,239.09 257.1,238.33 258.1,237.15 259.1,235.7 260.1,234.12 261.1,232.22 262.1,229.58 263.1,226.54 264.1,223.45 265.1,220.57 266.1,217.58 267.1,214.59 268.1,211.81 269.1,209.42 270.1,207.17 271.1,205.09 272.1,203.42 273.1,202.33 274.1,201.48 275.1,200.74 276.1,200.11 277.1,199.6 278.1,199.22 279.1,198.98 280.1,198.83 281.1,198.7 282.1,198.59 283.1,198.51 284.1,198.43 285.1,198.35 286.1,198.28 287.1,198.2 288.1,198.13 289.1,198.06 290.1,198 291.1,197.95 292.1,197.9" fill="none" stroke="#ff30ff" stroke-width="2.0" stroke-linejoin="round" stroke-linecap="round" stroke-dasharray="6.2 4.3" stroke-linecap="butt"/>
</g>
<rect x="455" y="229.4" width="1.6" height="1.6" fill="#333"/>
<defs><linearGradient id="ag" x1="67" y1="0" x2="238" y2="0" gradientUnits="userSpaceOnUse">
<stop offset="0" stop-color="#480010"/><stop offset="0.2" stop-color="#5a0010"/><stop offset="0.31" stop-color="#780010"/>
<stop offset="0.6" stop-color="#a00818"/><stop offset="0.78" stop-color="#c44858"/><stop offset="0.92" stop-color="#e0a0a4"/><stop offset="1" stop-color="#e4aaaa"/></linearGradient></defs>
<polyline points="67,82.7 68.5,82.64 70,82.58 71.5,82.51 73,82.44 74.5,82.36 76,82.28 77.5,82.19 79,82.1 80.5,82.01 82,81.91 83.5,81.81 85,81.7 86.5,81.59 88,81.48 89.5,81.36 91,81.25 92.5,81.13 94,81.01 95.5,80.88 97,80.76 98.5,80.63 100,80.5 101.5,80.36 103,80.21 104.5,80.04 106,79.86 107.5,79.68 109,79.49 110.5,79.3 112,79.11 113.5,78.92 115,78.73 116.5,78.56 118,78.4 119.5,78.25 121,78.11 122.5,77.98 124,77.86 125.5,77.74 127,77.63 128.5,77.52 130,77.42 131.5,77.32 133,77.22 134.5,77.12 136,77.02 137.5,76.92 139,76.82 140.5,76.72 142,76.62 143.5,76.51 145,76.4 146.5,76.29 148,76.17 149.5,76.04 151,75.91 152.5,75.77 154,75.63 155.5,75.48 157,75.33 158.5,75.17 160,75.01 161.5,74.85 163,74.69 164.5,74.52 166,74.35 167.5,74.18 169,74.01 170.5,73.84 172,73.68 173.5,73.51 175,73.35 176.5,73.19 178,73.03 179.5,72.87 181,72.71 182.5,72.55 184,72.38 185.5,72.21 187,72.04 188.5,71.86 190,71.67 191.5,71.48 193,71.27 194.5,71.06 196,70.84 197.5,70.61 199,70.37 200.5,70.11 202,69.83 203.5,69.53 205,69.19 206.5,68.84 208,68.45 209.5,68.04 211,67.6 212.5,67.14 214,66.6 215.5,65.99 217,65.34 218.5,64.67 220,64 221.5,63.33 223,62.65 224.5,61.95 226,61.23 227.5,60.5" fill="none" stroke="url(#ag)" stroke-width="3.3" stroke-linejoin="round"/>
<path d="M222.2,54.1 L239.4,52.9 L230.3,66.8 Z" fill="#e2a4a4"/>
<text x="70.89" y="100" font-size="12" fill="#3a0a10" stroke="#3a0a10" stroke-width="0.15" textLength="45.71" lengthAdjust="spacingAndGlyphs" >250MHz</text>
<text x="219.27" y="77.9" font-size="12" fill="#f2caca" stroke="#f2caca" stroke-width="0.15" textLength="33.16" lengthAdjust="spacingAndGlyphs" >2MHz</text>
<rect x="56.5" y="14.5" width="394.5" height="104.8" fill="none" stroke="#262626" stroke-width="2.0"/>
<line x1="95.8" y1="119.3" x2="95.8" y2="113.8" stroke="#262626" stroke-width="2.0"/>
<line x1="95.8" y1="14.5" x2="95.8" y2="20" stroke="#262626" stroke-width="2.0"/>
<line x1="174.7" y1="119.3" x2="174.7" y2="113.8" stroke="#262626" stroke-width="2.0"/>
<line x1="174.7" y1="14.5" x2="174.7" y2="20" stroke="#262626" stroke-width="2.0"/>
<line x1="253.6" y1="119.3" x2="253.6" y2="113.8" stroke="#262626" stroke-width="2.0"/>
<line x1="253.6" y1="14.5" x2="253.6" y2="20" stroke="#262626" stroke-width="2.0"/>
<line x1="332.5" y1="119.3" x2="332.5" y2="113.8" stroke="#262626" stroke-width="2.0"/>
<line x1="332.5" y1="14.5" x2="332.5" y2="20" stroke="#262626" stroke-width="2.0"/>
<line x1="411.4" y1="119.3" x2="411.4" y2="113.8" stroke="#262626" stroke-width="2.0"/>
<line x1="411.4" y1="14.5" x2="411.4" y2="20" stroke="#262626" stroke-width="2.0"/>
<line x1="56.5" y1="104" x2="62" y2="104" stroke="#262626" stroke-width="2.0"/>
<line x1="451" y1="104" x2="445.5" y2="104" stroke="#262626" stroke-width="2.0"/>
<line x1="56.5" y1="67" x2="62" y2="67" stroke="#262626" stroke-width="2.0"/>
<line x1="451" y1="67" x2="445.5" y2="67" stroke="#262626" stroke-width="2.0"/>
<line x1="56.5" y1="30" x2="62" y2="30" stroke="#262626" stroke-width="2.0"/>
<line x1="451" y1="30" x2="445.5" y2="30" stroke="#262626" stroke-width="2.0"/>
<rect x="56.2" y="14.4" width="32.5" height="20.3" fill="#f0f0f0" stroke="#000" stroke-width="1.6"/>
<text x="63.66" y="29.8" font-size="12" fill="#a80c18" stroke="#a80c18" stroke-width="0.15" textLength="18.79" lengthAdjust="spacingAndGlyphs" >BM</text>
<text x="53.1" y="108.6" font-size="11" fill="#000" stroke="#000" stroke-width="0.15" text-anchor="end" >-0.5</text>
<text x="53.1" y="71.6" font-size="11" fill="#000" stroke="#000" stroke-width="0.15" text-anchor="end" >0</text>
<text x="53.1" y="34.6" font-size="11" fill="#000" stroke="#000" stroke-width="0.15" text-anchor="end" >0.5</text>
<text x="95.8" y="132.5" font-size="11" fill="#000" stroke="#000" stroke-width="0.15" text-anchor="middle" >-10</text>
<text x="174.7" y="132.5" font-size="11" fill="#000" stroke="#000" stroke-width="0.15" text-anchor="middle" >-5</text>
<text x="253.6" y="132.5" font-size="11" fill="#000" stroke="#000" stroke-width="0.15" text-anchor="middle" >0</text>
<text x="332.5" y="132.5" font-size="11" fill="#000" stroke="#000" stroke-width="0.15" text-anchor="middle" >5</text>
<text x="411.4" y="132.5" font-size="11" fill="#000" stroke="#000" stroke-width="0.15" text-anchor="middle" >10</text>
<text x="197.69" y="146.6" font-size="12" fill="#000" stroke="#000" stroke-width="0.15" textLength="49.31" lengthAdjust="spacingAndGlyphs" >magnetic</text>
<text x="253.35" y="146.6" font-size="12" fill="#000" stroke="#000" stroke-width="0.15" textLength="22.02" lengthAdjust="spacingAndGlyphs" >field</text>
<text x="278.94" y="146.6" font-size="12" fill="#000" stroke="#000" stroke-width="0.15" textLength="28.94" lengthAdjust="spacingAndGlyphs" >(mT)</text>
<text transform="translate(30.8,99.84) rotate(-90)" font-size="12" fill="#000" stroke="#000" stroke-width="0.15" textLength="63.91" lengthAdjust="spacingAndGlyphs">EDMR (nA)</text>
<text x="-0.4" y="9.2" font-size="12" fill="#000" stroke="#000" stroke-width="0.15" text-anchor="start" >(a)</text>
<rect x="56.5" y="161.5" width="394.5" height="104.5" fill="none" stroke="#262626" stroke-width="2.0"/>
<line x1="95.8" y1="266" x2="95.8" y2="260.5" stroke="#262626" stroke-width="2.0"/>
<line x1="95.8" y1="161.5" x2="95.8" y2="167" stroke="#262626" stroke-width="2.0"/>
<line x1="174.7" y1="266" x2="174.7" y2="260.5" stroke="#262626" stroke-width="2.0"/>
<line x1="174.7" y1="161.5" x2="174.7" y2="167" stroke="#262626" stroke-width="2.0"/>
<line x1="253.6" y1="266" x2="253.6" y2="260.5" stroke="#262626" stroke-width="2.0"/>
<line x1="253.6" y1="161.5" x2="253.6" y2="167" stroke="#262626" stroke-width="2.0"/>
<line x1="332.5" y1="266" x2="332.5" y2="260.5" stroke="#262626" stroke-width="2.0"/>
<line x1="332.5" y1="161.5" x2="332.5" y2="167" stroke="#262626" stroke-width="2.0"/>
<line x1="411.4" y1="266" x2="411.4" y2="260.5" stroke="#262626" stroke-width="2.0"/>
<line x1="411.4" y1="161.5" x2="411.4" y2="167" stroke="#262626" stroke-width="2.0"/>
<line x1="56.5" y1="266" x2="62" y2="266" stroke="#262626" stroke-width="2.0"/>
<line x1="451" y1="266" x2="445.5" y2="266" stroke="#262626" stroke-width="2.0"/>
<line x1="56.5" y1="191.9" x2="62" y2="191.9" stroke="#262626" stroke-width="2.0"/>
<line x1="451" y1="191.9" x2="445.5" y2="191.9" stroke="#262626" stroke-width="2.0"/>
<rect x="56.2" y="161.4" width="32.5" height="20.2" fill="#f0f0f0" stroke="#000" stroke-width="1.6"/>
<text x="62.95" y="176.4" font-size="12" fill="#5ccf1e" stroke="#5ccf1e" stroke-width="0.15" textLength="18.48" lengthAdjust="spacingAndGlyphs" >AM</text>
<text x="53.1" y="270.6" font-size="11" fill="#000" stroke="#000" stroke-width="0.15" text-anchor="end" >0</text>
<text x="53.1" y="196.5" font-size="11" fill="#000" stroke="#000" stroke-width="0.15" text-anchor="end" >0.5</text>
<text x="95.8" y="279.5" font-size="11" fill="#000" stroke="#000" stroke-width="0.15" text-anchor="middle" >-10</text>
<text x="174.7" y="279.5" font-size="11" fill="#000" stroke="#000" stroke-width="0.15" text-anchor="middle" >-5</text>
<text x="253.6" y="279.5" font-size="11" fill="#000" stroke="#000" stroke-width="0.15" text-anchor="middle" >0</text>
<text x="332.5" y="279.5" font-size="11" fill="#000" stroke="#000" stroke-width="0.15" text-anchor="middle" >5</text>
<text x="411.4" y="279.5" font-size="11" fill="#000" stroke="#000" stroke-width="0.15" text-anchor="middle" >10</text>
<text x="196.99" y="293.2" font-size="12" fill="#000" stroke="#000" stroke-width="0.15" textLength="49.31" lengthAdjust="spacingAndGlyphs" >magnetic</text>
<text x="252.65" y="293.2" font-size="12" fill="#000" stroke="#000" stroke-width="0.15" textLength="22.02" lengthAdjust="spacingAndGlyphs" >field</text>
<text x="278.24" y="293.2" font-size="12" fill="#000" stroke="#000" stroke-width="0.15" textLength="28.94" lengthAdjust="spacingAndGlyphs" >(mT)</text>
<text transform="translate(31,246.75) rotate(-90)" font-size="12" fill="#000" stroke="#000" stroke-width="0.15" textLength="64.42" lengthAdjust="spacingAndGlyphs">EDMR (nA)</text>
<text x="-0.4" y="159.3" font-size="12" fill="#000" stroke="#000" stroke-width="0.15" text-anchor="start" >(b)</text>
<text x="66.01" y="203.9" font-size="12" fill="#000" stroke="#000" stroke-width="0.15" textLength="57.33" lengthAdjust="spacingAndGlyphs" >inductance</text>
<text x="71" y="218.1" font-size="12" fill="#000" stroke="#000" stroke-width="0.15" textLength="45.88" lengthAdjust="spacingAndGlyphs" >damping</text>
<text x="307.87" y="177.8" font-size="12" fill="#ff30ff" stroke="#ff30ff" stroke-width="0.15" textLength="42.61" lengthAdjust="spacingAndGlyphs" >ZFSDR</text>
<text x="307.71" y="191.2" font-size="12" fill="#ff30ff" stroke="#ff30ff" stroke-width="0.15" textLength="41.52" lengthAdjust="spacingAndGlyphs" >leakage</text>
<rect x="505.6" y="14.5" width="170.9" height="104.8" fill="none" stroke="#262626" stroke-width="2.0"/>
<line x1="505.6" y1="119.3" x2="505.6" y2="116.1" stroke="#262626" stroke-width="2.0"/>
<line x1="505.6" y1="14.5" x2="505.6" y2="17.7" stroke="#262626" stroke-width="2.0"/>
<line x1="562.57" y1="119.3" x2="562.57" y2="116.1" stroke="#262626" stroke-width="2.0"/>
<line x1="562.57" y1="14.5" x2="562.57" y2="17.7" stroke="#262626" stroke-width="2.0"/>
<line x1="619.53" y1="119.3" x2="619.53" y2="116.1" stroke="#262626" stroke-width="2.0"/>
<line x1="619.53" y1="14.5" x2="619.53" y2="17.7" stroke="#262626" stroke-width="2.0"/>
<line x1="676.5" y1="119.3" x2="676.5" y2="116.1" stroke="#262626" stroke-width="2.0"/>
<line x1="676.5" y1="14.5" x2="676.5" y2="17.7" stroke="#262626" stroke-width="2.0"/>
<line x1="505.6" y1="119.3" x2="508.8" y2="119.3" stroke="#262626" stroke-width="2.0"/>
<line x1="676.5" y1="119.3" x2="673.3" y2="119.3" stroke="#262626" stroke-width="2.0"/>
<line x1="505.6" y1="66.9" x2="508.8" y2="66.9" stroke="#262626" stroke-width="2.0"/>
<line x1="676.5" y1="66.9" x2="673.3" y2="66.9" stroke="#262626" stroke-width="2.0"/>
<line x1="505.6" y1="14.5" x2="508.8" y2="14.5" stroke="#262626" stroke-width="2.0"/>
<line x1="676.5" y1="14.5" x2="673.3" y2="14.5" stroke="#262626" stroke-width="2.0"/>
<path d="M506.74,100.56 L512.04,107.56 L506.74,114.56 L501.44,107.56 Z" fill="#efc4c4" stroke="#000" stroke-width="2.2" stroke-linejoin="miter"/>
<circle cx="506.74" cy="107" r="5.6" fill="#efc4c4" stroke="#000" stroke-width="2.2"/>
<path d="M519.84,63.88 L525.14,70.88 L519.84,77.88 L514.54,70.88 Z" fill="#e2a6a6" stroke="#000" stroke-width="2.2" stroke-linejoin="miter"/>
<circle cx="519.84" cy="62.08" r="5.6" fill="#e2a6a6" stroke="#000" stroke-width="2.2"/>
<path d="M534.08,61.79 L539.38,68.79 L534.08,75.79 L528.78,68.79 Z" fill="#d48a8e" stroke="#000" stroke-width="2.2" stroke-linejoin="miter"/>
<circle cx="534.08" cy="50.55" r="5.6" fill="#d48a8e" stroke="#000" stroke-width="2.2"/>
<path d="M548.33,67.03 L553.62,74.03 L548.33,81.03 L543.03,74.03 Z" fill="#c8686c" stroke="#000" stroke-width="2.2" stroke-linejoin="miter"/>
<circle cx="548.33" cy="57.26" r="5.6" fill="#c8686c" stroke="#000" stroke-width="2.2"/>
<path d="M562.57,71.85 L567.87,78.85 L562.57,85.85 L557.27,78.85 Z" fill="#c04a50" stroke="#000" stroke-width="2.2" stroke-linejoin="miter"/>
<circle cx="562.57" cy="63.13" r="5.6" fill="#c04a50" stroke="#000" stroke-width="2.2"/>
<path d="M576.81,74.36 L582.11,81.36 L576.81,88.36 L571.51,81.36 Z" fill="#b01c20" stroke="#000" stroke-width="2.2" stroke-linejoin="miter"/>
<circle cx="576.81" cy="79.27" r="5.6" fill="#b01c20" stroke="#000" stroke-width="2.2"/>
<path d="M591.05,80.65 L596.35,87.65 L591.05,94.65 L585.75,87.65 Z" fill="#9a0808" stroke="#000" stroke-width="2.2" stroke-linejoin="miter"/>
<circle cx="591.05" cy="86.39" r="5.6" fill="#9a0808" stroke="#000" stroke-width="2.2"/>
<path d="M605.29,87.78 L610.59,94.78 L605.29,101.78 L599.99,94.78 Z" fill="#800404" stroke="#000" stroke-width="2.2" stroke-linejoin="miter"/>
<circle cx="605.29" cy="92.47" r="5.6" fill="#800404" stroke="#000" stroke-width="2.2"/>
<path d="M619.53,93.02 L624.83,100.02 L619.53,107.02 L614.23,100.02 Z" fill="#6a0406" stroke="#000" stroke-width="2.2" stroke-linejoin="miter"/>
<circle cx="619.53" cy="95.82" r="5.6" fill="#6a0406" stroke="#000" stroke-width="2.2"/>
<path d="M633.77,88.82 L639.07,95.82 L633.77,102.82 L628.48,95.82 Z" fill="#55020a" stroke="#000" stroke-width="2.2" stroke-linejoin="miter"/>
<circle cx="633.77" cy="97.08" r="5.6" fill="#55020a" stroke="#000" stroke-width="2.2"/>
<path d="M648.02,91.97 L653.32,98.97 L648.02,105.97 L642.72,98.97 Z" fill="#3c0008" stroke="#000" stroke-width="2.2" stroke-linejoin="miter"/>
<circle cx="648.02" cy="98.55" r="5.6" fill="#3c0008" stroke="#000" stroke-width="2.2"/>
<text x="502.6" y="123.7" font-size="11" fill="#000" stroke="#000" stroke-width="0.15" text-anchor="end" >0</text>
<text x="502.6" y="71.3" font-size="11" fill="#000" stroke="#000" stroke-width="0.15" text-anchor="end" >0.25</text>
<text x="502.6" y="18.9" font-size="11" fill="#000" stroke="#000" stroke-width="0.15" text-anchor="end" >0.5</text>
<text x="505.6" y="132.5" font-size="11" fill="#000" stroke="#000" stroke-width="0.15" text-anchor="middle" >0</text>
<text x="562.57" y="132.5" font-size="11" fill="#000" stroke="#000" stroke-width="0.15" text-anchor="middle" >100</text>
<text x="619.53" y="132.5" font-size="11" fill="#000" stroke="#000" stroke-width="0.15" text-anchor="middle" >200</text>
<text x="676.5" y="132.5" font-size="11" fill="#000" stroke="#000" stroke-width="0.15" text-anchor="middle" >300</text>
<text x="567.07" y="146.3" font-size="12" fill="#000" stroke="#000" stroke-width="0.15" textLength="16.44" lengthAdjust="spacingAndGlyphs" >RF</text>
<text x="587.37" y="146.3" font-size="12" fill="#000" stroke="#000" stroke-width="0.15" textLength="35.96" lengthAdjust="spacingAndGlyphs" >(MHz)</text>
<text transform="translate(479.2,109.32) rotate(-90)" font-size="12" fill="#000" stroke="#000" stroke-width="0.15" textLength="80.99" lengthAdjust="spacingAndGlyphs">amplitude (nA)</text>
<text x="455.31" y="9.2" font-size="12" fill="#000" stroke="#000" stroke-width="0.15" textLength="16.57" lengthAdjust="spacingAndGlyphs" >(c)</text>
<line x1="534.5" y1="42.2" x2="540.5" y2="36.4" stroke="#d48a8e" stroke-width="1"/>
<text x="544.08" y="31.4" font-size="12" fill="#d48a8e" stroke="#d48a8e" stroke-width="0.15" textLength="39.66" lengthAdjust="spacingAndGlyphs" >50MHz</text>
<line x1="515.5" y1="103.6" x2="526.9" y2="92.9" stroke="#f0c8c8" stroke-width="1"/>
<text x="531.26" y="95.4" font-size="12" fill="#f0cccc" stroke="#f0cccc" stroke-width="0.15" textLength="33.36" lengthAdjust="spacingAndGlyphs" >2MHz</text>
<line x1="650.5" y1="77.3" x2="650.5" y2="88.1" stroke="#4a0a14" stroke-width="1"/>
<text x="621.38" y="71.9" font-size="12" fill="#3a0a10" stroke="#3a0a10" stroke-width="0.15" textLength="46.23" lengthAdjust="spacingAndGlyphs" >250MHz</text>
<rect x="505.6" y="161.6" width="170.9" height="104.3" fill="none" stroke="#262626" stroke-width="2.0"/>
<line x1="505.6" y1="265.9" x2="505.6" y2="262.7" stroke="#262626" stroke-width="2.0"/>
<line x1="505.6" y1="161.6" x2="505.6" y2="164.8" stroke="#262626" stroke-width="2.0"/>
<line x1="562.57" y1="265.9" x2="562.57" y2="262.7" stroke="#262626" stroke-width="2.0"/>
<line x1="562.57" y1="161.6" x2="562.57" y2="164.8" stroke="#262626" stroke-width="2.0"/>
<line x1="619.53" y1="265.9" x2="619.53" y2="262.7" stroke="#262626" stroke-width="2.0"/>
<line x1="619.53" y1="161.6" x2="619.53" y2="164.8" stroke="#262626" stroke-width="2.0"/>
<line x1="676.5" y1="265.9" x2="676.5" y2="262.7" stroke="#262626" stroke-width="2.0"/>
<line x1="676.5" y1="161.6" x2="676.5" y2="164.8" stroke="#262626" stroke-width="2.0"/>
<line x1="505.6" y1="265.9" x2="508.8" y2="265.9" stroke="#262626" stroke-width="2.0"/>
<line x1="676.5" y1="265.9" x2="673.3" y2="265.9" stroke="#262626" stroke-width="2.0"/>
<line x1="505.6" y1="213.75" x2="508.8" y2="213.75" stroke="#262626" stroke-width="2.0"/>
<line x1="676.5" y1="213.75" x2="673.3" y2="213.75" stroke="#262626" stroke-width="2.0"/>
<line x1="505.6" y1="161.6" x2="508.8" y2="161.6" stroke="#262626" stroke-width="2.0"/>
<line x1="676.5" y1="161.6" x2="673.3" y2="161.6" stroke="#262626" stroke-width="2.0"/>
<path d="M506.74,237 L512.04,244 L506.74,251 L501.44,244 Z" fill="#e2f5cc" stroke="#000" stroke-width="2.2" stroke-linejoin="miter"/>
<circle cx="506.74" cy="241.49" r="5.6" fill="#e2f5cc" stroke="#000" stroke-width="2.2"/>
<path d="M519.84,188.18 L525.14,195.18 L519.84,202.18 L514.54,195.18 Z" fill="#c6e8a6" stroke="#000" stroke-width="2.2" stroke-linejoin="miter"/>
<circle cx="519.84" cy="188.51" r="5.6" fill="#c6e8a6" stroke="#000" stroke-width="2.2"/>
<path d="M534.08,182.55 L539.38,189.55 L534.08,196.55 L528.78,189.55 Z" fill="#aedd86" stroke="#000" stroke-width="2.2" stroke-linejoin="miter"/>
<circle cx="534.08" cy="175.78" r="5.6" fill="#aedd86" stroke="#000" stroke-width="2.2"/>
<path d="M548.33,182.55 L553.62,189.55 L548.33,196.55 L543.03,189.55 Z" fill="#98d468" stroke="#000" stroke-width="2.2" stroke-linejoin="miter"/>
<circle cx="548.33" cy="174.12" r="5.6" fill="#98d468" stroke="#000" stroke-width="2.2"/>
<path d="M562.57,187.77 L567.87,194.77 L562.57,201.77 L557.27,194.77 Z" fill="#82cc4a" stroke="#000" stroke-width="2.2" stroke-linejoin="miter"/>
<circle cx="562.57" cy="177.66" r="5.6" fill="#82cc4a" stroke="#000" stroke-width="2.2"/>
<path d="M576.81,184.22 L582.11,191.22 L576.81,198.22 L571.51,191.22 Z" fill="#6cc42a" stroke="#000" stroke-width="2.2" stroke-linejoin="miter"/>
<circle cx="576.81" cy="180.58" r="5.6" fill="#6cc42a" stroke="#000" stroke-width="2.2"/>
<path d="M591.05,201.53 L596.35,208.53 L591.05,215.53 L585.75,208.53 Z" fill="#5cb818" stroke="#000" stroke-width="2.2" stroke-linejoin="miter"/>
<circle cx="591.05" cy="205.41" r="5.6" fill="#5cb818" stroke="#000" stroke-width="2.2"/>
<path d="M605.29,208.84 L610.59,215.84 L605.29,222.84 L599.99,215.84 Z" fill="#4c9a10" stroke="#000" stroke-width="2.2" stroke-linejoin="miter"/>
<circle cx="605.29" cy="214.17" r="5.6" fill="#4c9a10" stroke="#000" stroke-width="2.2"/>
<path d="M619.53,211.96 L624.83,218.96 L619.53,225.96 L614.23,218.96 Z" fill="#3e7e12" stroke="#000" stroke-width="2.2" stroke-linejoin="miter"/>
<circle cx="619.53" cy="219.8" r="5.6" fill="#3e7e12" stroke="#000" stroke-width="2.2"/>
<path d="M633.77,214.26 L639.07,221.26 L633.77,228.26 L628.48,221.26 Z" fill="#336212" stroke="#000" stroke-width="2.2" stroke-linejoin="miter"/>
<circle cx="633.77" cy="221.05" r="5.6" fill="#336212" stroke="#000" stroke-width="2.2"/>
<path d="M648.02,216.35 L653.32,223.35 L648.02,230.35 L642.72,223.35 Z" fill="#2a4a12" stroke="#000" stroke-width="2.2" stroke-linejoin="miter"/>
<circle cx="648.02" cy="220.63" r="5.6" fill="#2a4a12" stroke="#000" stroke-width="2.2"/>
<text x="502.6" y="270.3" font-size="11" fill="#000" stroke="#000" stroke-width="0.15" text-anchor="end" >0</text>
<text x="502.6" y="218.15" font-size="11" fill="#000" stroke="#000" stroke-width="0.15" text-anchor="end" >0.25</text>
<text x="502.6" y="166" font-size="11" fill="#000" stroke="#000" stroke-width="0.15" text-anchor="end" >0.5</text>
<text x="505.6" y="279.2" font-size="11" fill="#000" stroke="#000" stroke-width="0.15" text-anchor="middle" >0</text>
<text x="562.57" y="279.2" font-size="11" fill="#000" stroke="#000" stroke-width="0.15" text-anchor="middle" >100</text>
<text x="619.53" y="279.2" font-size="11" fill="#000" stroke="#000" stroke-width="0.15" text-anchor="middle" >200</text>
<text x="676.5" y="279.2" font-size="11" fill="#000" stroke="#000" stroke-width="0.15" text-anchor="middle" >300</text>
<text x="567.07" y="293.2" font-size="12" fill="#000" stroke="#000" stroke-width="0.15" textLength="16.44" lengthAdjust="spacingAndGlyphs" >RF</text>
<text x="587.37" y="293.2" font-size="12" fill="#000" stroke="#000" stroke-width="0.15" textLength="35.96" lengthAdjust="spacingAndGlyphs" >(MHz)</text>
<text transform="translate(479.3,256.32) rotate(-90)" font-size="12" fill="#000" stroke="#000" stroke-width="0.15" textLength="81.49" lengthAdjust="spacingAndGlyphs">amplitude (nA)</text>
<text x="455.33" y="159.3" font-size="12" fill="#000" stroke="#000" stroke-width="0.15" textLength="16.95" lengthAdjust="spacingAndGlyphs" >(d)</text>
<ellipse cx="552.4" cy="225.4" rx="5.9" ry="5" fill="none" stroke="#000" stroke-width="2.4"/>
<path d="M551,235.2 L557.2,242 L551,248.8 L544.8,242 Z" fill="none" stroke="#000" stroke-width="2.4" stroke-linejoin="miter"/>
<text x="564.15" y="229.2" font-size="12" fill="#000" stroke="#000" stroke-width="0.15" textLength="22.76" lengthAdjust="spacingAndGlyphs" >B&gt;0</text>
<text x="564.12" y="244.3" font-size="12" fill="#000" stroke="#000" stroke-width="0.15" textLength="23.4" lengthAdjust="spacingAndGlyphs" >B&lt;0</text>
</svg></body></html>
